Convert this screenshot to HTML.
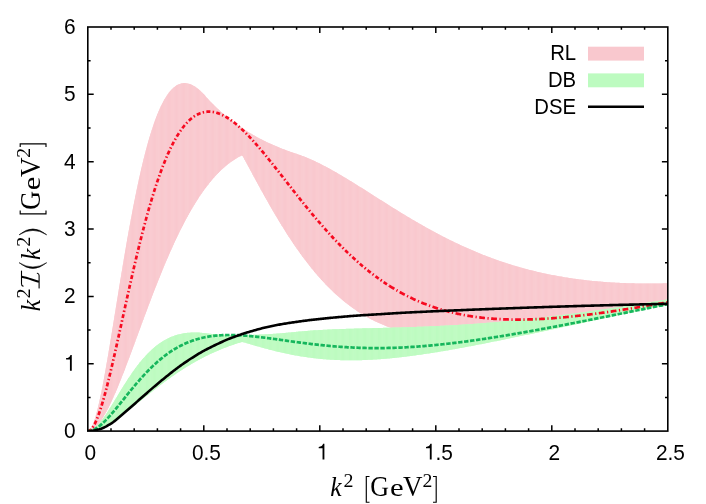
<!DOCTYPE html>
<html><head><meta charset="utf-8"><title>plot</title>
<style>html,body{margin:0;padding:0;background:#fff}svg{display:block;will-change:transform}</style></head>
<body><svg width="706" height="504" viewBox="0 0 706 504">
<rect width="706" height="504" fill="#fff"/>
<path d="M111.00,431.10 v-2.8 M111.00,27.00 v2.8 M134.20,431.10 v-2.8 M134.20,27.00 v2.8 M157.40,431.10 v-2.8 M157.40,27.00 v2.8 M180.60,431.10 v-2.8 M180.60,27.00 v2.8 M203.80,431.10 v-5.9 M203.80,27.00 v5.9 M227.00,431.10 v-2.8 M227.00,27.00 v2.8 M250.20,431.10 v-2.8 M250.20,27.00 v2.8 M273.40,431.10 v-2.8 M273.40,27.00 v2.8 M296.60,431.10 v-2.8 M296.60,27.00 v2.8 M319.80,431.10 v-5.9 M319.80,27.00 v5.9 M343.00,431.10 v-2.8 M343.00,27.00 v2.8 M366.20,431.10 v-2.8 M366.20,27.00 v2.8 M389.40,431.10 v-2.8 M389.40,27.00 v2.8 M412.60,431.10 v-2.8 M412.60,27.00 v2.8 M435.80,431.10 v-5.9 M435.80,27.00 v5.9 M459.00,431.10 v-2.8 M459.00,27.00 v2.8 M482.20,431.10 v-2.8 M482.20,27.00 v2.8 M505.40,431.10 v-2.8 M505.40,27.00 v2.8 M528.60,431.10 v-2.8 M528.60,27.00 v2.8 M551.80,431.10 v-5.9 M551.80,27.00 v5.9 M575.00,431.10 v-2.8 M575.00,27.00 v2.8 M598.20,431.10 v-2.8 M598.20,27.00 v2.8 M621.40,431.10 v-2.8 M621.40,27.00 v2.8 M644.60,431.10 v-2.8 M644.60,27.00 v2.8 M87.80,397.43 h2.8 M667.80,397.43 h-2.8 M87.80,363.75 h5.9 M667.80,363.75 h-5.9 M87.80,330.08 h2.8 M667.80,330.08 h-2.8 M87.80,296.40 h5.9 M667.80,296.40 h-5.9 M87.80,262.73 h2.8 M667.80,262.73 h-2.8 M87.80,229.05 h5.9 M667.80,229.05 h-5.9 M87.80,195.38 h2.8 M667.80,195.38 h-2.8 M87.80,161.70 h5.9 M667.80,161.70 h-5.9 M87.80,128.02 h2.8 M667.80,128.02 h-2.8 M87.80,94.35 h5.9 M667.80,94.35 h-5.9 M87.80,60.67 h2.8 M667.80,60.67 h-2.8" stroke="#000" stroke-width="1.5" fill="none"/>
<clipPath id="pc"><rect x="87.80" y="27.00" width="580.00" height="404.10"/></clipPath><g clip-path="url(#pc)">
<path d="M87.80,431.10 L88.96,430.73 L90.12,429.64 L91.28,427.91 L92.44,425.56 L93.60,422.65 L94.76,419.23 L95.92,415.33 L97.08,411.01 L98.24,406.29 L99.40,401.21 L100.56,395.82 L101.72,390.13 L102.88,384.18 L104.04,378.01 L105.20,371.63 L106.36,365.08 L107.52,358.38 L108.68,351.55 L109.84,344.61 L111.00,337.60 L112.16,330.51 L113.32,323.38 L114.48,316.22 L115.64,309.04 L116.80,301.87 L117.96,294.71 L119.12,287.58 L120.28,280.48 L121.44,273.44 L122.60,266.47 L123.76,259.56 L124.92,252.74 L126.08,246.00 L127.24,239.36 L128.40,232.83 L129.56,226.41 L130.72,220.10 L131.88,213.91 L133.04,207.86 L134.20,201.93 L135.36,196.13 L136.52,190.48 L137.68,184.97 L138.84,179.60 L140.00,174.38 L141.16,169.30 L142.32,164.38 L143.48,159.61 L144.64,154.99 L145.80,150.52 L146.96,146.20 L148.12,142.04 L149.28,138.04 L150.44,134.18 L151.60,130.48 L152.76,126.94 L153.92,123.54 L155.08,120.29 L156.24,117.20 L157.40,114.25 L158.56,111.45 L159.72,108.79 L160.88,106.28 L162.04,103.91 L163.20,101.68 L164.36,99.59 L165.52,97.64 L166.68,95.82 L167.84,94.13 L169.00,92.57 L170.16,91.14 L171.32,89.84 L172.48,88.65 L173.64,87.59 L174.80,86.65 L175.96,85.82 L177.12,85.11 L178.28,84.51 L179.44,84.01 L180.60,83.63 L181.76,83.34 L182.92,83.16 L184.08,83.07 L185.24,83.08 L186.40,83.19 L187.56,83.38 L188.72,83.67 L189.88,84.04 L191.04,84.49 L192.20,85.03 L193.36,85.64 L194.52,86.33 L195.68,87.10 L196.84,87.93 L198.00,88.84 L199.16,89.81 L200.32,90.85 L201.48,91.95 L202.64,93.11 L203.80,94.32 L204.96,95.60 L206.12,96.91 L207.28,98.20 L208.44,99.46 L209.60,100.70 L210.76,101.91 L211.92,103.11 L213.08,104.29 L214.24,105.44 L215.40,106.58 L216.56,107.70 L217.72,108.79 L218.88,109.87 L220.04,110.93 L221.20,111.97 L222.36,113.00 L223.52,114.01 L224.68,115.00 L225.84,115.97 L227.00,116.93 L228.16,117.87 L229.32,118.80 L230.48,119.72 L231.64,120.61 L232.80,121.49 L233.96,122.36 L235.12,123.22 L236.28,124.06 L237.44,124.89 L238.60,125.70 L239.76,126.50 L240.92,127.30 L242.08,128.07 L243.24,128.83 L244.40,129.58 L245.56,130.33 L246.72,131.06 L247.88,131.77 L249.04,132.48 L250.20,133.18 L251.36,133.87 L252.52,134.54 L253.68,135.20 L254.84,135.86 L256.00,136.50 L257.16,137.13 L258.32,137.76 L259.48,138.38 L260.64,138.98 L261.80,139.58 L262.96,140.17 L264.12,140.75 L265.28,141.32 L266.44,141.88 L267.60,142.43 L268.76,142.98 L269.92,143.51 L271.08,144.04 L272.24,144.57 L273.40,145.08 L274.56,145.58 L275.72,146.08 L276.88,146.57 L278.04,147.05 L279.20,147.53 L280.36,148.00 L281.52,148.46 L282.68,148.91 L283.84,149.37 L285.00,149.80 L286.16,150.24 L287.32,150.67 L288.48,151.09 L289.64,151.50 L290.80,151.92 L291.96,152.32 L293.12,152.72 L294.28,153.11 L295.44,153.50 L296.60,153.87 L297.76,154.26 L298.92,154.65 L300.08,155.06 L301.24,155.48 L302.40,155.91 L303.56,156.36 L304.72,156.81 L305.88,157.27 L307.04,157.75 L308.20,158.24 L309.36,158.73 L310.52,159.24 L311.68,159.75 L312.84,160.28 L314.00,160.81 L315.16,161.35 L316.32,161.90 L317.48,162.46 L318.64,163.03 L319.80,163.61 L320.96,164.19 L322.12,164.78 L323.28,165.38 L324.44,165.98 L325.60,166.59 L326.76,167.21 L327.92,167.83 L329.08,168.47 L330.24,169.10 L331.40,169.74 L332.56,170.39 L333.72,171.05 L334.88,171.70 L336.04,172.37 L337.20,173.04 L338.36,173.71 L339.52,174.39 L340.68,175.07 L341.84,175.75 L343.00,176.44 L344.16,177.14 L345.32,177.83 L346.48,178.53 L347.64,179.24 L348.80,179.94 L349.96,180.65 L351.12,181.36 L352.28,182.08 L353.44,182.79 L354.60,183.51 L355.76,184.23 L356.92,184.96 L358.08,185.68 L359.24,186.41 L360.40,187.14 L361.56,187.87 L362.72,188.60 L363.88,189.33 L365.04,190.06 L366.20,190.80 L367.36,191.53 L368.52,192.27 L369.68,193.00 L370.84,193.74 L372.00,194.48 L373.16,195.21 L374.32,195.95 L375.48,196.69 L376.64,197.42 L377.80,198.16 L378.96,198.89 L380.12,199.63 L381.28,200.36 L382.44,201.10 L383.60,201.83 L384.76,202.56 L385.92,203.29 L387.08,204.02 L388.24,204.75 L389.40,205.48 L390.56,206.21 L391.72,206.93 L392.88,207.65 L394.04,208.38 L395.20,209.10 L396.36,209.81 L397.52,210.53 L398.68,211.24 L399.84,211.96 L401.00,212.67 L402.16,213.38 L403.32,214.08 L404.48,214.79 L405.64,215.49 L406.80,216.19 L407.96,216.88 L409.12,217.58 L410.28,218.27 L411.44,218.96 L412.60,219.64 L413.76,220.33 L414.92,221.01 L416.08,221.68 L417.24,222.36 L418.40,223.03 L419.56,223.70 L420.72,224.36 L421.88,225.03 L423.04,225.69 L424.20,226.34 L425.36,227.00 L426.52,227.65 L427.68,228.29 L428.84,228.93 L430.00,229.57 L431.16,230.21 L432.32,230.84 L433.48,231.47 L434.64,232.10 L435.80,232.72 L436.96,233.34 L438.12,233.95 L439.28,234.56 L440.44,235.17 L441.60,235.78 L442.76,236.38 L443.92,236.97 L445.08,237.56 L446.24,238.15 L447.40,238.74 L448.56,239.32 L449.72,239.90 L450.88,240.47 L452.04,241.04 L453.20,241.60 L454.36,242.17 L455.52,242.72 L456.68,243.28 L457.84,243.83 L459.00,244.37 L460.16,244.91 L461.32,245.45 L462.48,245.98 L463.64,246.51 L464.80,247.04 L465.96,247.56 L467.12,248.08 L468.28,248.59 L469.44,249.10 L470.60,249.60 L471.76,250.10 L472.92,250.60 L474.08,251.09 L475.24,251.58 L476.40,252.07 L477.56,252.55 L478.72,253.02 L479.88,253.49 L481.04,253.96 L482.20,254.43 L483.36,254.89 L484.52,255.34 L485.68,255.79 L486.84,256.24 L488.00,256.68 L489.16,257.12 L490.32,257.56 L491.48,257.99 L492.64,258.41 L493.80,258.84 L494.96,259.25 L496.12,259.67 L497.28,260.08 L498.44,260.48 L499.60,260.89 L500.76,261.28 L501.92,261.68 L503.08,262.07 L504.24,262.45 L505.40,262.83 L506.56,263.21 L507.72,263.59 L508.88,263.95 L510.04,264.32 L511.20,264.68 L512.36,265.04 L513.52,265.39 L514.68,265.74 L515.84,266.09 L517.00,266.43 L518.16,266.77 L519.32,267.10 L520.48,267.43 L521.64,267.76 L522.80,268.08 L523.96,268.40 L525.12,268.71 L526.28,269.02 L527.44,269.33 L528.60,269.63 L529.76,269.93 L530.92,270.23 L532.08,270.52 L533.24,270.81 L534.40,271.09 L535.56,271.37 L536.72,271.65 L537.88,271.92 L539.04,272.19 L540.20,272.45 L541.36,272.72 L542.52,272.97 L543.68,273.23 L544.84,273.48 L546.00,273.73 L547.16,273.97 L548.32,274.21 L549.48,274.45 L550.64,274.68 L551.80,274.91 L552.96,275.14 L554.12,275.36 L555.28,275.58 L556.44,275.79 L557.60,276.01 L558.76,276.22 L559.92,276.42 L561.08,276.62 L562.24,276.82 L563.40,277.02 L564.56,277.21 L565.72,277.40 L566.88,277.58 L568.04,277.77 L569.20,277.95 L570.36,278.12 L571.52,278.29 L572.68,278.46 L573.84,278.63 L575.00,278.79 L576.16,278.95 L577.32,279.11 L578.48,279.26 L579.64,279.42 L580.80,279.56 L581.96,279.71 L583.12,279.85 L584.28,279.99 L585.44,280.12 L586.60,280.26 L587.76,280.39 L588.92,280.51 L590.08,280.64 L591.24,280.76 L592.40,280.88 L593.56,280.99 L594.72,281.10 L595.88,281.21 L597.04,281.32 L598.20,281.42 L599.36,281.53 L600.52,281.62 L601.68,281.72 L602.84,281.81 L604.00,281.90 L605.16,281.99 L606.32,282.08 L607.48,282.16 L608.64,282.24 L609.80,282.32 L610.96,282.39 L612.12,282.46 L613.28,282.53 L614.44,282.60 L615.60,282.66 L616.76,282.73 L617.92,282.79 L619.08,282.84 L620.24,282.90 L621.40,282.95 L622.56,283.00 L623.72,283.05 L624.88,283.09 L626.04,283.13 L627.20,283.17 L628.36,283.21 L629.52,283.25 L630.68,283.28 L631.84,283.31 L633.00,283.34 L634.16,283.37 L635.32,283.39 L636.48,283.42 L637.64,283.44 L638.80,283.45 L639.96,283.47 L641.12,283.48 L642.28,283.49 L643.44,283.50 L644.60,283.51 L645.76,283.52 L646.92,283.52 L648.08,283.52 L649.24,283.52 L650.40,283.52 L651.56,283.51 L652.72,283.51 L653.88,283.50 L655.04,283.49 L656.20,283.47 L657.36,283.46 L658.52,283.44 L659.68,283.42 L660.84,283.40 L662.00,283.38 L663.16,283.36 L664.32,283.33 L665.48,283.31 L666.64,283.28 L667.80,283.25 L667.80,304.39 L666.64,304.62 L665.48,304.86 L664.32,305.10 L663.16,305.33 L662.00,305.57 L660.84,305.81 L659.68,306.04 L658.52,306.28 L657.36,306.52 L656.20,306.75 L655.04,306.99 L653.88,307.22 L652.72,307.46 L651.56,307.70 L650.40,307.93 L649.24,308.17 L648.08,308.41 L646.92,308.64 L645.76,308.88 L644.60,309.11 L643.44,309.35 L642.28,309.59 L641.12,309.82 L639.96,310.06 L638.80,310.29 L637.64,310.53 L636.48,310.76 L635.32,311.00 L634.16,311.23 L633.00,311.47 L631.84,311.70 L630.68,311.94 L629.52,312.17 L628.36,312.41 L627.20,312.64 L626.04,312.88 L624.88,313.11 L623.72,313.34 L622.56,313.58 L621.40,313.81 L620.24,314.04 L619.08,314.28 L617.92,314.51 L616.76,314.74 L615.60,314.98 L614.44,315.21 L613.28,315.44 L612.12,315.67 L610.96,315.90 L609.80,316.13 L608.64,316.37 L607.48,316.60 L606.32,316.83 L605.16,317.06 L604.00,317.29 L602.84,317.52 L601.68,317.75 L600.52,317.97 L599.36,318.20 L598.20,318.43 L597.04,318.66 L595.88,318.89 L594.72,319.11 L593.56,319.34 L592.40,319.57 L591.24,319.79 L590.08,320.02 L588.92,320.24 L587.76,320.47 L586.60,320.69 L585.44,320.92 L584.28,321.14 L583.12,321.36 L581.96,321.58 L580.80,321.80 L579.64,322.03 L578.48,322.25 L577.32,322.47 L576.16,322.69 L575.00,322.90 L573.84,323.12 L572.68,323.34 L571.52,323.56 L570.36,323.77 L569.20,323.99 L568.04,324.20 L566.88,324.42 L565.72,324.63 L564.56,324.84 L563.40,325.06 L562.24,325.27 L561.08,325.48 L559.92,325.69 L558.76,325.89 L557.60,326.10 L556.44,326.31 L555.28,326.52 L554.12,326.72 L552.96,326.92 L551.80,327.13 L550.64,327.33 L549.48,327.53 L548.32,327.73 L547.16,327.93 L546.00,328.13 L544.84,328.33 L543.68,328.52 L542.52,328.72 L541.36,328.91 L540.20,329.10 L539.04,329.29 L537.88,329.48 L536.72,329.67 L535.56,329.86 L534.40,330.05 L533.24,330.23 L532.08,330.42 L530.92,330.60 L529.76,330.78 L528.60,330.96 L527.44,331.14 L526.28,331.31 L525.12,331.49 L523.96,331.66 L522.80,331.83 L521.64,332.00 L520.48,332.17 L519.32,332.34 L518.16,332.50 L517.00,332.66 L515.84,332.83 L514.68,332.99 L513.52,333.14 L512.36,333.30 L511.20,333.45 L510.04,333.60 L508.88,333.75 L507.72,333.90 L506.56,334.05 L505.40,334.19 L504.24,334.33 L503.08,334.47 L501.92,334.61 L500.76,334.74 L499.60,334.87 L498.44,335.00 L497.28,335.13 L496.12,335.26 L494.96,335.38 L493.80,335.50 L492.64,335.61 L491.48,335.73 L490.32,335.84 L489.16,335.95 L488.00,336.05 L486.84,336.16 L485.68,336.26 L484.52,336.36 L483.36,336.45 L482.20,336.54 L481.04,336.63 L479.88,336.71 L478.72,336.79 L477.56,336.87 L476.40,336.95 L475.24,337.02 L474.08,337.09 L472.92,337.15 L471.76,337.21 L470.60,337.27 L469.44,337.32 L468.28,337.37 L467.12,337.42 L465.96,337.46 L464.80,337.50 L463.64,337.53 L462.48,337.56 L461.32,337.59 L460.16,337.61 L459.00,337.62 L457.84,337.64 L456.68,337.64 L455.52,337.65 L454.36,337.65 L453.20,337.64 L452.04,337.63 L450.88,337.61 L449.72,337.59 L448.56,337.57 L447.40,337.53 L446.24,337.50 L445.08,337.46 L443.92,337.41 L442.76,337.36 L441.60,337.30 L440.44,337.24 L439.28,337.17 L438.12,337.09 L436.96,337.01 L435.80,336.92 L434.64,336.83 L433.48,336.73 L432.32,336.63 L431.16,336.51 L430.00,336.40 L428.84,336.27 L427.68,336.14 L426.52,336.00 L425.36,335.86 L424.20,335.70 L423.04,335.54 L421.88,335.38 L420.72,335.20 L419.56,335.02 L418.40,334.83 L417.24,334.64 L416.08,334.43 L414.92,334.22 L413.76,334.00 L412.60,333.77 L411.44,333.54 L410.28,333.29 L409.12,333.04 L407.96,332.78 L406.80,332.51 L405.64,332.23 L404.48,331.94 L403.32,331.65 L402.16,331.34 L401.00,331.02 L399.84,330.70 L398.68,330.37 L397.52,330.02 L396.36,329.67 L395.20,329.31 L394.04,328.93 L392.88,328.55 L391.72,328.15 L390.56,327.75 L389.40,327.34 L388.24,326.91 L387.08,326.47 L385.92,326.03 L384.76,325.57 L383.60,325.10 L382.44,324.62 L381.28,324.12 L380.12,323.62 L378.96,323.10 L377.80,322.58 L376.64,322.04 L375.48,321.49 L374.32,320.92 L373.16,320.34 L372.00,319.75 L370.84,319.15 L369.68,318.54 L368.52,317.91 L367.36,317.27 L366.20,316.61 L365.04,315.95 L363.88,315.26 L362.72,314.57 L361.56,313.86 L360.40,313.14 L359.24,312.40 L358.08,311.65 L356.92,310.88 L355.76,310.10 L354.60,309.30 L353.44,308.49 L352.28,307.67 L351.12,306.83 L349.96,305.97 L348.80,305.10 L347.64,304.22 L346.48,303.31 L345.32,302.40 L344.16,301.46 L343.00,300.51 L341.84,299.55 L340.68,298.56 L339.52,297.57 L338.36,296.55 L337.20,295.52 L336.04,294.47 L334.88,293.41 L333.72,292.32 L332.56,291.22 L331.40,290.11 L330.24,288.97 L329.08,287.82 L327.92,286.66 L326.76,285.47 L325.60,284.27 L324.44,283.05 L323.28,281.81 L322.12,280.55 L320.96,279.28 L319.80,277.98 L318.64,276.67 L317.48,275.34 L316.32,274.00 L315.16,272.63 L314.00,271.25 L312.84,269.85 L311.68,268.43 L310.52,266.99 L309.36,265.54 L308.20,264.06 L307.04,262.57 L305.88,261.06 L304.72,259.53 L303.56,257.98 L302.40,256.42 L301.24,254.84 L300.08,253.23 L298.92,251.62 L297.76,249.98 L296.60,248.32 L295.44,246.65 L294.28,244.96 L293.12,243.25 L291.96,241.53 L290.80,239.78 L289.64,238.02 L288.48,236.25 L287.32,234.45 L286.16,232.64 L285.00,230.82 L283.84,228.97 L282.68,227.11 L281.52,225.24 L280.36,223.35 L279.20,221.44 L278.04,219.52 L276.88,217.59 L275.72,215.64 L274.56,213.67 L273.40,211.70 L272.24,209.71 L271.08,207.70 L269.92,205.69 L268.76,203.66 L267.60,201.62 L266.44,199.57 L265.28,197.50 L264.12,195.43 L262.96,193.35 L261.80,191.26 L260.64,189.16 L259.48,187.05 L258.32,184.93 L257.16,182.81 L256.00,180.68 L254.84,178.55 L253.68,176.41 L252.52,174.26 L251.36,172.11 L250.20,169.96 L249.04,167.81 L247.88,165.66 L246.72,163.51 L245.56,161.36 L244.40,159.20 L243.24,157.06 L242.08,155.33 L240.92,155.90 L239.76,156.50 L238.60,157.12 L237.44,157.78 L236.28,158.46 L235.12,159.17 L233.96,159.91 L232.80,160.68 L231.64,161.49 L230.48,162.32 L229.32,163.18 L228.16,164.07 L227.00,164.99 L225.84,165.95 L224.68,166.93 L223.52,167.95 L222.36,169.00 L221.20,170.08 L220.04,171.20 L218.88,172.35 L217.72,173.53 L216.56,174.74 L215.40,175.99 L214.24,177.27 L213.08,178.59 L211.92,179.94 L210.76,181.32 L209.60,182.74 L208.44,184.20 L207.28,185.69 L206.12,187.21 L204.96,188.77 L203.80,190.37 L202.64,192.00 L201.48,193.66 L200.32,195.36 L199.16,197.10 L198.00,198.88 L196.84,200.68 L195.68,202.53 L194.52,204.41 L193.36,206.33 L192.20,208.28 L191.04,210.27 L189.88,212.30 L188.72,214.36 L187.56,216.45 L186.40,218.59 L185.24,220.76 L184.08,222.96 L182.92,225.20 L181.76,227.47 L180.60,229.78 L179.44,232.12 L178.28,234.50 L177.12,236.91 L175.96,239.36 L174.80,241.84 L173.64,244.35 L172.48,246.89 L171.32,249.47 L170.16,252.08 L169.00,254.72 L167.84,257.39 L166.68,260.09 L165.52,262.82 L164.36,265.58 L163.20,268.37 L162.04,271.18 L160.88,274.02 L159.72,276.89 L158.56,279.79 L157.40,282.70 L156.24,285.64 L155.08,288.61 L153.92,291.59 L152.76,294.60 L151.60,297.62 L150.44,300.67 L149.28,303.73 L148.12,306.80 L146.96,309.89 L145.80,313.00 L144.64,316.11 L143.48,319.24 L142.32,322.37 L141.16,325.51 L140.00,328.66 L138.84,331.81 L137.68,334.96 L136.52,338.11 L135.36,341.26 L134.20,344.40 L133.04,347.54 L131.88,350.67 L130.72,353.79 L129.56,356.89 L128.40,359.98 L127.24,363.06 L126.08,366.11 L124.92,369.13 L123.76,372.14 L122.60,375.11 L121.44,378.05 L120.28,380.95 L119.12,383.82 L117.96,386.64 L116.80,389.42 L115.64,392.15 L114.48,394.82 L113.32,397.44 L112.16,400.00 L111.00,402.49 L109.84,404.92 L108.68,407.27 L107.52,409.54 L106.36,411.74 L105.20,413.84 L104.04,415.85 L102.88,417.77 L101.72,419.58 L100.56,421.28 L99.40,422.87 L98.24,424.34 L97.08,425.68 L95.92,426.89 L94.76,427.97 L93.60,428.89 L92.44,429.67 L91.28,430.28 L90.12,430.73 L88.96,431.01 L87.80,431.10Z" fill="#fbd6db"/><g fill="#f9c8ce"><path d="M87.80,431.10 L88.96,430.73 L88.96,431.01 L87.80,431.10Z"/><path d="M88.96,430.73 L90.12,429.64 L90.12,430.73 L88.96,431.01Z"/><path d="M90.12,429.64 L91.28,427.91 L91.28,430.28 L90.12,430.73Z"/><path d="M91.28,427.91 L92.44,425.56 L92.44,429.67 L91.28,430.28Z"/><path d="M92.44,425.56 L93.60,422.65 L93.60,428.89 L92.44,429.67Z"/><path d="M93.60,422.65 L94.76,419.23 L94.76,427.97 L93.60,428.89Z"/><path d="M94.76,419.23 L95.92,415.33 L95.92,426.89 L94.76,427.97Z"/><path d="M95.92,415.33 L97.08,411.01 L97.08,425.68 L95.92,426.89Z"/><path d="M97.08,411.01 L98.24,406.29 L98.24,424.34 L97.08,425.68Z"/><path d="M98.24,406.29 L99.40,401.21 L99.40,422.87 L98.24,424.34Z"/><path d="M99.40,401.21 L100.56,395.82 L100.56,421.28 L99.40,422.87Z"/><path d="M100.56,395.82 L101.72,390.13 L101.72,419.58 L100.56,421.28Z"/><path d="M101.72,390.13 L102.88,384.18 L102.88,417.77 L101.72,419.58Z"/><path d="M102.88,384.18 L104.04,378.01 L104.04,415.85 L102.88,417.77Z"/><path d="M104.04,378.01 L105.20,371.63 L105.20,413.84 L104.04,415.85Z"/><path d="M105.20,371.63 L106.36,365.08 L106.36,411.74 L105.20,413.84Z"/><path d="M106.36,365.08 L107.52,358.38 L107.52,409.54 L106.36,411.74Z"/><path d="M107.52,358.38 L108.68,351.55 L108.68,407.27 L107.52,409.54Z"/><path d="M108.68,351.55 L109.84,344.61 L109.84,404.92 L108.68,407.27Z"/><path d="M109.84,344.61 L111.00,337.60 L111.00,402.49 L109.84,404.92Z"/><path d="M111.00,337.60 L112.16,330.51 L112.16,400.00 L111.00,402.49Z"/><path d="M112.16,330.51 L113.32,323.38 L113.32,397.44 L112.16,400.00Z"/><path d="M113.32,323.38 L114.48,316.22 L114.48,394.82 L113.32,397.44Z"/><path d="M114.48,316.22 L115.64,309.04 L115.64,392.15 L114.48,394.82Z"/><path d="M115.64,309.04 L116.80,301.87 L116.80,389.42 L115.64,392.15Z"/><path d="M116.80,301.87 L117.96,294.71 L117.96,386.64 L116.80,389.42Z"/><path d="M117.96,294.71 L119.12,287.58 L119.12,383.82 L117.96,386.64Z"/><path d="M119.12,287.58 L120.28,280.48 L120.28,380.95 L119.12,383.82Z"/><path d="M120.28,280.48 L121.44,273.44 L121.44,378.05 L120.28,380.95Z"/><path d="M121.44,273.44 L122.60,266.47 L122.60,375.11 L121.44,378.05Z"/><path d="M122.60,266.47 L123.76,259.56 L123.76,372.14 L122.60,375.11Z"/><path d="M123.76,259.56 L124.92,252.74 L124.92,369.13 L123.76,372.14Z"/><path d="M124.92,252.74 L126.08,246.00 L126.08,366.11 L124.92,369.13Z"/><path d="M126.08,246.00 L127.24,239.36 L127.24,363.06 L126.08,366.11Z"/><path d="M127.24,239.36 L128.40,232.83 L128.40,359.98 L127.24,363.06Z"/><path d="M128.40,232.83 L129.56,226.41 L129.56,356.89 L128.40,359.98Z"/><path d="M129.56,226.41 L130.72,220.10 L130.72,353.79 L129.56,356.89Z"/><path d="M130.72,220.10 L131.88,213.91 L131.88,350.67 L130.72,353.79Z"/><path d="M131.88,213.91 L133.04,207.86 L133.04,347.54 L131.88,350.67Z"/><path d="M133.04,207.86 L134.20,201.93 L134.20,344.40 L133.04,347.54Z"/><path d="M134.20,201.93 L135.36,196.13 L135.36,341.26 L134.20,344.40Z"/><path d="M135.36,196.13 L136.52,190.48 L136.52,338.11 L135.36,341.26Z"/><path d="M136.52,190.48 L137.68,184.97 L137.68,334.96 L136.52,338.11Z"/><path d="M137.68,184.97 L138.84,179.60 L138.84,331.81 L137.68,334.96Z"/><path d="M138.84,179.60 L140.00,174.38 L140.00,328.66 L138.84,331.81Z"/><path d="M140.00,174.38 L141.16,169.30 L141.16,325.51 L140.00,328.66Z"/><path d="M141.16,169.30 L142.32,164.38 L142.32,322.37 L141.16,325.51Z"/><path d="M142.32,164.38 L143.48,159.61 L143.48,319.24 L142.32,322.37Z"/><path d="M143.48,159.61 L144.64,154.99 L144.64,316.11 L143.48,319.24Z"/><path d="M144.64,154.99 L145.80,150.52 L145.80,313.00 L144.64,316.11Z"/><path d="M145.80,150.52 L146.96,146.20 L146.96,309.89 L145.80,313.00Z"/><path d="M146.96,146.20 L148.12,142.04 L148.12,306.80 L146.96,309.89Z"/><path d="M148.12,142.04 L149.28,138.04 L149.28,303.73 L148.12,306.80Z"/><path d="M149.28,138.04 L150.44,134.18 L150.44,300.67 L149.28,303.73Z"/><path d="M150.44,134.18 L151.60,130.48 L151.60,297.62 L150.44,300.67Z"/><path d="M151.60,130.48 L152.76,126.94 L152.76,294.60 L151.60,297.62Z"/><path d="M152.76,126.94 L153.92,123.54 L153.92,291.59 L152.76,294.60Z"/><path d="M153.92,123.54 L155.08,120.29 L155.08,288.61 L153.92,291.59Z"/><path d="M155.08,120.29 L156.24,117.20 L156.24,285.64 L155.08,288.61Z"/><path d="M156.24,117.20 L157.40,114.25 L157.40,282.70 L156.24,285.64Z"/><path d="M157.40,114.25 L158.56,111.45 L158.56,279.79 L157.40,282.70Z"/><path d="M158.56,111.45 L159.72,108.79 L159.72,276.89 L158.56,279.79Z"/><path d="M159.72,108.79 L160.88,106.28 L160.88,274.02 L159.72,276.89Z"/><path d="M160.88,106.28 L162.04,103.91 L162.04,271.18 L160.88,274.02Z"/><path d="M162.04,103.91 L163.20,101.68 L163.20,268.37 L162.04,271.18Z"/><path d="M163.20,101.68 L164.36,99.59 L164.36,265.58 L163.20,268.37Z"/><path d="M164.36,99.59 L165.52,97.64 L165.52,262.82 L164.36,265.58Z"/><path d="M165.52,97.64 L166.68,95.82 L166.68,260.09 L165.52,262.82Z"/><path d="M166.68,95.82 L167.84,94.13 L167.84,257.39 L166.68,260.09Z"/><path d="M167.84,94.13 L169.00,92.57 L169.00,254.72 L167.84,257.39Z"/><path d="M169.00,92.57 L170.16,91.14 L170.16,252.08 L169.00,254.72Z"/><path d="M170.16,91.14 L171.32,89.84 L171.32,249.47 L170.16,252.08Z"/><path d="M171.32,89.84 L172.48,88.65 L172.48,246.89 L171.32,249.47Z"/><path d="M172.48,88.65 L173.64,87.59 L173.64,244.35 L172.48,246.89Z"/><path d="M173.64,87.59 L174.80,86.65 L174.80,241.84 L173.64,244.35Z"/><path d="M174.80,86.65 L175.96,85.82 L175.96,239.36 L174.80,241.84Z"/><path d="M175.96,85.82 L177.12,85.11 L177.12,236.91 L175.96,239.36Z"/><path d="M177.12,85.11 L178.28,84.51 L178.28,234.50 L177.12,236.91Z"/><path d="M178.28,84.51 L179.44,84.01 L179.44,232.12 L178.28,234.50Z"/><path d="M179.44,84.01 L180.60,83.63 L180.60,229.78 L179.44,232.12Z"/><path d="M180.60,83.63 L181.76,83.34 L181.76,227.47 L180.60,229.78Z"/><path d="M181.76,83.34 L182.92,83.16 L182.92,225.20 L181.76,227.47Z"/><path d="M182.92,83.16 L184.08,83.07 L184.08,222.96 L182.92,225.20Z"/><path d="M184.08,83.07 L185.24,83.08 L185.24,220.76 L184.08,222.96Z"/><path d="M185.24,83.08 L186.40,83.19 L186.40,218.59 L185.24,220.76Z"/><path d="M186.40,83.19 L187.56,83.38 L187.56,216.45 L186.40,218.59Z"/><path d="M187.56,83.38 L188.72,83.67 L188.72,214.36 L187.56,216.45Z"/><path d="M188.72,83.67 L189.88,84.04 L189.88,212.30 L188.72,214.36Z"/><path d="M189.88,84.04 L191.04,84.49 L191.04,210.27 L189.88,212.30Z"/><path d="M191.04,84.49 L192.20,85.03 L192.20,208.28 L191.04,210.27Z"/><path d="M192.20,85.03 L193.36,85.64 L193.36,206.33 L192.20,208.28Z"/><path d="M193.36,85.64 L194.52,86.33 L194.52,204.41 L193.36,206.33Z"/><path d="M194.52,86.33 L195.68,87.10 L195.68,202.53 L194.52,204.41Z"/><path d="M195.68,87.10 L196.84,87.93 L196.84,200.68 L195.68,202.53Z"/><path d="M196.84,87.93 L198.00,88.84 L198.00,198.88 L196.84,200.68Z"/><path d="M198.00,88.84 L199.16,89.81 L199.16,197.10 L198.00,198.88Z"/><path d="M199.16,89.81 L200.32,90.85 L200.32,195.36 L199.16,197.10Z"/><path d="M200.32,90.85 L201.48,91.95 L201.48,193.66 L200.32,195.36Z"/><path d="M201.48,91.95 L202.64,93.11 L202.64,192.00 L201.48,193.66Z"/><path d="M202.64,93.11 L203.80,94.32 L203.80,190.37 L202.64,192.00Z"/><path d="M203.80,94.32 L204.96,95.60 L204.96,188.77 L203.80,190.37Z"/><path d="M204.96,95.60 L206.12,96.91 L206.12,187.21 L204.96,188.77Z"/><path d="M206.12,96.91 L207.28,98.20 L207.28,185.69 L206.12,187.21Z"/><path d="M207.28,98.20 L208.44,99.46 L208.44,184.20 L207.28,185.69Z"/><path d="M208.44,99.46 L209.60,100.70 L209.60,182.74 L208.44,184.20Z"/><path d="M209.60,100.70 L210.76,101.91 L210.76,181.32 L209.60,182.74Z"/><path d="M210.76,101.91 L211.92,103.11 L211.92,179.94 L210.76,181.32Z"/><path d="M211.92,103.11 L213.08,104.29 L213.08,178.59 L211.92,179.94Z"/><path d="M213.08,104.29 L214.24,105.44 L214.24,177.27 L213.08,178.59Z"/><path d="M214.24,105.44 L215.40,106.58 L215.40,175.99 L214.24,177.27Z"/><path d="M215.40,106.58 L216.56,107.70 L216.56,174.74 L215.40,175.99Z"/><path d="M216.56,107.70 L217.72,108.79 L217.72,173.53 L216.56,174.74Z"/><path d="M217.72,108.79 L218.88,109.87 L218.88,172.35 L217.72,173.53Z"/><path d="M218.88,109.87 L220.04,110.93 L220.04,171.20 L218.88,172.35Z"/><path d="M220.04,110.93 L221.20,111.97 L221.20,170.08 L220.04,171.20Z"/><path d="M221.20,111.97 L222.36,113.00 L222.36,169.00 L221.20,170.08Z"/><path d="M222.36,113.00 L223.52,114.01 L223.52,167.95 L222.36,169.00Z"/><path d="M223.52,114.01 L224.68,115.00 L224.68,166.93 L223.52,167.95Z"/><path d="M224.68,115.00 L225.84,115.97 L225.84,165.95 L224.68,166.93Z"/><path d="M225.84,115.97 L227.00,116.93 L227.00,164.99 L225.84,165.95Z"/><path d="M227.00,116.93 L228.16,117.87 L228.16,164.07 L227.00,164.99Z"/><path d="M228.16,117.87 L229.32,118.80 L229.32,163.18 L228.16,164.07Z"/><path d="M229.32,118.80 L230.48,119.72 L230.48,162.32 L229.32,163.18Z"/><path d="M230.48,119.72 L231.64,120.61 L231.64,161.49 L230.48,162.32Z"/><path d="M231.64,120.61 L232.80,121.49 L232.80,160.68 L231.64,161.49Z"/><path d="M232.80,121.49 L233.96,122.36 L233.96,159.91 L232.80,160.68Z"/><path d="M233.96,122.36 L235.12,123.22 L235.12,159.17 L233.96,159.91Z"/><path d="M235.12,123.22 L236.28,124.06 L236.28,158.46 L235.12,159.17Z"/><path d="M236.28,124.06 L237.44,124.89 L237.44,157.78 L236.28,158.46Z"/><path d="M237.44,124.89 L238.60,125.70 L238.60,157.12 L237.44,157.78Z"/><path d="M238.60,125.70 L239.76,126.50 L239.76,156.50 L238.60,157.12Z"/><path d="M239.76,126.50 L240.92,127.30 L240.92,155.90 L239.76,156.50Z"/><path d="M240.92,127.30 L242.08,128.07 L242.08,155.33 L240.92,155.90Z"/><path d="M242.08,128.07 L243.24,128.83 L243.24,157.06 L242.08,155.33Z"/><path d="M243.24,128.83 L244.40,129.58 L244.40,159.20 L243.24,157.06Z"/><path d="M244.40,129.58 L245.56,130.33 L245.56,161.36 L244.40,159.20Z"/><path d="M245.56,130.33 L246.72,131.06 L246.72,163.51 L245.56,161.36Z"/><path d="M246.72,131.06 L247.88,131.77 L247.88,165.66 L246.72,163.51Z"/><path d="M247.88,131.77 L249.04,132.48 L249.04,167.81 L247.88,165.66Z"/><path d="M249.04,132.48 L250.20,133.18 L250.20,169.96 L249.04,167.81Z"/><path d="M250.20,133.18 L251.36,133.87 L251.36,172.11 L250.20,169.96Z"/><path d="M251.36,133.87 L252.52,134.54 L252.52,174.26 L251.36,172.11Z"/><path d="M252.52,134.54 L253.68,135.20 L253.68,176.41 L252.52,174.26Z"/><path d="M253.68,135.20 L254.84,135.86 L254.84,178.55 L253.68,176.41Z"/><path d="M254.84,135.86 L256.00,136.50 L256.00,180.68 L254.84,178.55Z"/><path d="M256.00,136.50 L257.16,137.13 L257.16,182.81 L256.00,180.68Z"/><path d="M257.16,137.13 L258.32,137.76 L258.32,184.93 L257.16,182.81Z"/><path d="M258.32,137.76 L259.48,138.38 L259.48,187.05 L258.32,184.93Z"/><path d="M259.48,138.38 L260.64,138.98 L260.64,189.16 L259.48,187.05Z"/><path d="M260.64,138.98 L261.80,139.58 L261.80,191.26 L260.64,189.16Z"/><path d="M261.80,139.58 L262.96,140.17 L262.96,193.35 L261.80,191.26Z"/><path d="M262.96,140.17 L264.12,140.75 L264.12,195.43 L262.96,193.35Z"/><path d="M264.12,140.75 L265.28,141.32 L265.28,197.50 L264.12,195.43Z"/><path d="M265.28,141.32 L266.44,141.88 L266.44,199.57 L265.28,197.50Z"/><path d="M266.44,141.88 L267.60,142.43 L267.60,201.62 L266.44,199.57Z"/><path d="M267.60,142.43 L268.76,142.98 L268.76,203.66 L267.60,201.62Z"/><path d="M268.76,142.98 L269.92,143.51 L269.92,205.69 L268.76,203.66Z"/><path d="M269.92,143.51 L271.08,144.04 L271.08,207.70 L269.92,205.69Z"/><path d="M271.08,144.04 L272.24,144.57 L272.24,209.71 L271.08,207.70Z"/><path d="M272.24,144.57 L273.40,145.08 L273.40,211.70 L272.24,209.71Z"/><path d="M273.40,145.08 L274.56,145.58 L274.56,213.67 L273.40,211.70Z"/><path d="M274.56,145.58 L275.72,146.08 L275.72,215.64 L274.56,213.67Z"/><path d="M275.72,146.08 L276.88,146.57 L276.88,217.59 L275.72,215.64Z"/><path d="M276.88,146.57 L278.04,147.05 L278.04,219.52 L276.88,217.59Z"/><path d="M278.04,147.05 L279.20,147.53 L279.20,221.44 L278.04,219.52Z"/><path d="M279.20,147.53 L280.36,148.00 L280.36,223.35 L279.20,221.44Z"/><path d="M280.36,148.00 L281.52,148.46 L281.52,225.24 L280.36,223.35Z"/><path d="M281.52,148.46 L282.68,148.91 L282.68,227.11 L281.52,225.24Z"/><path d="M282.68,148.91 L283.84,149.37 L283.84,228.97 L282.68,227.11Z"/><path d="M283.84,149.37 L285.00,149.80 L285.00,230.82 L283.84,228.97Z"/><path d="M285.00,149.80 L286.16,150.24 L286.16,232.64 L285.00,230.82Z"/><path d="M286.16,150.24 L287.32,150.67 L287.32,234.45 L286.16,232.64Z"/><path d="M287.32,150.67 L288.48,151.09 L288.48,236.25 L287.32,234.45Z"/><path d="M288.48,151.09 L289.64,151.50 L289.64,238.02 L288.48,236.25Z"/><path d="M289.64,151.50 L290.80,151.92 L290.80,239.78 L289.64,238.02Z"/><path d="M290.80,151.92 L291.96,152.32 L291.96,241.53 L290.80,239.78Z"/><path d="M291.96,152.32 L293.12,152.72 L293.12,243.25 L291.96,241.53Z"/><path d="M293.12,152.72 L294.28,153.11 L294.28,244.96 L293.12,243.25Z"/><path d="M294.28,153.11 L295.44,153.50 L295.44,246.65 L294.28,244.96Z"/><path d="M295.44,153.50 L296.60,153.87 L296.60,248.32 L295.44,246.65Z"/><path d="M296.60,153.87 L297.76,154.26 L297.76,249.98 L296.60,248.32Z"/><path d="M297.76,154.26 L298.92,154.65 L298.92,251.62 L297.76,249.98Z"/><path d="M298.92,154.65 L300.08,155.06 L300.08,253.23 L298.92,251.62Z"/><path d="M300.08,155.06 L301.24,155.48 L301.24,254.84 L300.08,253.23Z"/><path d="M301.24,155.48 L302.40,155.91 L302.40,256.42 L301.24,254.84Z"/><path d="M302.40,155.91 L303.56,156.36 L303.56,257.98 L302.40,256.42Z"/><path d="M303.56,156.36 L304.72,156.81 L304.72,259.53 L303.56,257.98Z"/><path d="M304.72,156.81 L305.88,157.27 L305.88,261.06 L304.72,259.53Z"/><path d="M305.88,157.27 L307.04,157.75 L307.04,262.57 L305.88,261.06Z"/><path d="M307.04,157.75 L308.20,158.24 L308.20,264.06 L307.04,262.57Z"/><path d="M308.20,158.24 L309.36,158.73 L309.36,265.54 L308.20,264.06Z"/><path d="M309.36,158.73 L310.52,159.24 L310.52,266.99 L309.36,265.54Z"/><path d="M310.52,159.24 L311.68,159.75 L311.68,268.43 L310.52,266.99Z"/><path d="M311.68,159.75 L312.84,160.28 L312.84,269.85 L311.68,268.43Z"/><path d="M312.84,160.28 L314.00,160.81 L314.00,271.25 L312.84,269.85Z"/><path d="M314.00,160.81 L315.16,161.35 L315.16,272.63 L314.00,271.25Z"/><path d="M315.16,161.35 L316.32,161.90 L316.32,274.00 L315.16,272.63Z"/><path d="M316.32,161.90 L317.48,162.46 L317.48,275.34 L316.32,274.00Z"/><path d="M317.48,162.46 L318.64,163.03 L318.64,276.67 L317.48,275.34Z"/><path d="M318.64,163.03 L319.80,163.61 L319.80,277.98 L318.64,276.67Z"/><path d="M319.80,163.61 L320.96,164.19 L320.96,279.28 L319.80,277.98Z"/><path d="M320.96,164.19 L322.12,164.78 L322.12,280.55 L320.96,279.28Z"/><path d="M322.12,164.78 L323.28,165.38 L323.28,281.81 L322.12,280.55Z"/><path d="M323.28,165.38 L324.44,165.98 L324.44,283.05 L323.28,281.81Z"/><path d="M324.44,165.98 L325.60,166.59 L325.60,284.27 L324.44,283.05Z"/><path d="M325.60,166.59 L326.76,167.21 L326.76,285.47 L325.60,284.27Z"/><path d="M326.76,167.21 L327.92,167.83 L327.92,286.66 L326.76,285.47Z"/><path d="M327.92,167.83 L329.08,168.47 L329.08,287.82 L327.92,286.66Z"/><path d="M329.08,168.47 L330.24,169.10 L330.24,288.97 L329.08,287.82Z"/><path d="M330.24,169.10 L331.40,169.74 L331.40,290.11 L330.24,288.97Z"/><path d="M331.40,169.74 L332.56,170.39 L332.56,291.22 L331.40,290.11Z"/><path d="M332.56,170.39 L333.72,171.05 L333.72,292.32 L332.56,291.22Z"/><path d="M333.72,171.05 L334.88,171.70 L334.88,293.41 L333.72,292.32Z"/><path d="M334.88,171.70 L336.04,172.37 L336.04,294.47 L334.88,293.41Z"/><path d="M336.04,172.37 L337.20,173.04 L337.20,295.52 L336.04,294.47Z"/><path d="M337.20,173.04 L338.36,173.71 L338.36,296.55 L337.20,295.52Z"/><path d="M338.36,173.71 L339.52,174.39 L339.52,297.57 L338.36,296.55Z"/><path d="M339.52,174.39 L340.68,175.07 L340.68,298.56 L339.52,297.57Z"/><path d="M340.68,175.07 L341.84,175.75 L341.84,299.55 L340.68,298.56Z"/><path d="M341.84,175.75 L343.00,176.44 L343.00,300.51 L341.84,299.55Z"/><path d="M343.00,176.44 L344.16,177.14 L344.16,301.46 L343.00,300.51Z"/><path d="M344.16,177.14 L345.32,177.83 L345.32,302.40 L344.16,301.46Z"/><path d="M345.32,177.83 L346.48,178.53 L346.48,303.31 L345.32,302.40Z"/><path d="M346.48,178.53 L347.64,179.24 L347.64,304.22 L346.48,303.31Z"/><path d="M347.64,179.24 L348.80,179.94 L348.80,305.10 L347.64,304.22Z"/><path d="M348.80,179.94 L349.96,180.65 L349.96,305.97 L348.80,305.10Z"/><path d="M349.96,180.65 L351.12,181.36 L351.12,306.83 L349.96,305.97Z"/><path d="M351.12,181.36 L352.28,182.08 L352.28,307.67 L351.12,306.83Z"/><path d="M352.28,182.08 L353.44,182.79 L353.44,308.49 L352.28,307.67Z"/><path d="M353.44,182.79 L354.60,183.51 L354.60,309.30 L353.44,308.49Z"/><path d="M354.60,183.51 L355.76,184.23 L355.76,310.10 L354.60,309.30Z"/><path d="M355.76,184.23 L356.92,184.96 L356.92,310.88 L355.76,310.10Z"/><path d="M356.92,184.96 L358.08,185.68 L358.08,311.65 L356.92,310.88Z"/><path d="M358.08,185.68 L359.24,186.41 L359.24,312.40 L358.08,311.65Z"/><path d="M359.24,186.41 L360.40,187.14 L360.40,313.14 L359.24,312.40Z"/><path d="M360.40,187.14 L361.56,187.87 L361.56,313.86 L360.40,313.14Z"/><path d="M361.56,187.87 L362.72,188.60 L362.72,314.57 L361.56,313.86Z"/><path d="M362.72,188.60 L363.88,189.33 L363.88,315.26 L362.72,314.57Z"/><path d="M363.88,189.33 L365.04,190.06 L365.04,315.95 L363.88,315.26Z"/><path d="M365.04,190.06 L366.20,190.80 L366.20,316.61 L365.04,315.95Z"/><path d="M366.20,190.80 L367.36,191.53 L367.36,317.27 L366.20,316.61Z"/><path d="M367.36,191.53 L368.52,192.27 L368.52,317.91 L367.36,317.27Z"/><path d="M368.52,192.27 L369.68,193.00 L369.68,318.54 L368.52,317.91Z"/><path d="M369.68,193.00 L370.84,193.74 L370.84,319.15 L369.68,318.54Z"/><path d="M370.84,193.74 L372.00,194.48 L372.00,319.75 L370.84,319.15Z"/><path d="M372.00,194.48 L373.16,195.21 L373.16,320.34 L372.00,319.75Z"/><path d="M373.16,195.21 L374.32,195.95 L374.32,320.92 L373.16,320.34Z"/><path d="M374.32,195.95 L375.48,196.69 L375.48,321.49 L374.32,320.92Z"/><path d="M375.48,196.69 L376.64,197.42 L376.64,322.04 L375.48,321.49Z"/><path d="M376.64,197.42 L377.80,198.16 L377.80,322.58 L376.64,322.04Z"/><path d="M377.80,198.16 L378.96,198.89 L378.96,323.10 L377.80,322.58Z"/><path d="M378.96,198.89 L380.12,199.63 L380.12,323.62 L378.96,323.10Z"/><path d="M380.12,199.63 L381.28,200.36 L381.28,324.12 L380.12,323.62Z"/><path d="M381.28,200.36 L382.44,201.10 L382.44,324.62 L381.28,324.12Z"/><path d="M382.44,201.10 L383.60,201.83 L383.60,325.10 L382.44,324.62Z"/><path d="M383.60,201.83 L384.76,202.56 L384.76,325.57 L383.60,325.10Z"/><path d="M384.76,202.56 L385.92,203.29 L385.92,326.03 L384.76,325.57Z"/><path d="M385.92,203.29 L387.08,204.02 L387.08,326.47 L385.92,326.03Z"/><path d="M387.08,204.02 L388.24,204.75 L388.24,326.91 L387.08,326.47Z"/><path d="M388.24,204.75 L389.40,205.48 L389.40,327.34 L388.24,326.91Z"/><path d="M389.40,205.48 L390.56,206.21 L390.56,327.75 L389.40,327.34Z"/><path d="M390.56,206.21 L391.72,206.93 L391.72,328.15 L390.56,327.75Z"/><path d="M391.72,206.93 L392.88,207.65 L392.88,328.55 L391.72,328.15Z"/><path d="M392.88,207.65 L394.04,208.38 L394.04,328.93 L392.88,328.55Z"/><path d="M394.04,208.38 L395.20,209.10 L395.20,329.31 L394.04,328.93Z"/><path d="M395.20,209.10 L396.36,209.81 L396.36,329.67 L395.20,329.31Z"/><path d="M396.36,209.81 L397.52,210.53 L397.52,330.02 L396.36,329.67Z"/><path d="M397.52,210.53 L398.68,211.24 L398.68,330.37 L397.52,330.02Z"/><path d="M398.68,211.24 L399.84,211.96 L399.84,330.70 L398.68,330.37Z"/><path d="M399.84,211.96 L401.00,212.67 L401.00,331.02 L399.84,330.70Z"/><path d="M401.00,212.67 L402.16,213.38 L402.16,331.34 L401.00,331.02Z"/><path d="M402.16,213.38 L403.32,214.08 L403.32,331.65 L402.16,331.34Z"/><path d="M403.32,214.08 L404.48,214.79 L404.48,331.94 L403.32,331.65Z"/><path d="M404.48,214.79 L405.64,215.49 L405.64,332.23 L404.48,331.94Z"/><path d="M405.64,215.49 L406.80,216.19 L406.80,332.51 L405.64,332.23Z"/><path d="M406.80,216.19 L407.96,216.88 L407.96,332.78 L406.80,332.51Z"/><path d="M407.96,216.88 L409.12,217.58 L409.12,333.04 L407.96,332.78Z"/><path d="M409.12,217.58 L410.28,218.27 L410.28,333.29 L409.12,333.04Z"/><path d="M410.28,218.27 L411.44,218.96 L411.44,333.54 L410.28,333.29Z"/><path d="M411.44,218.96 L412.60,219.64 L412.60,333.77 L411.44,333.54Z"/><path d="M412.60,219.64 L413.76,220.33 L413.76,334.00 L412.60,333.77Z"/><path d="M413.76,220.33 L414.92,221.01 L414.92,334.22 L413.76,334.00Z"/><path d="M414.92,221.01 L416.08,221.68 L416.08,334.43 L414.92,334.22Z"/><path d="M416.08,221.68 L417.24,222.36 L417.24,334.64 L416.08,334.43Z"/><path d="M417.24,222.36 L418.40,223.03 L418.40,334.83 L417.24,334.64Z"/><path d="M418.40,223.03 L419.56,223.70 L419.56,335.02 L418.40,334.83Z"/><path d="M419.56,223.70 L420.72,224.36 L420.72,335.20 L419.56,335.02Z"/><path d="M420.72,224.36 L421.88,225.03 L421.88,335.38 L420.72,335.20Z"/><path d="M421.88,225.03 L423.04,225.69 L423.04,335.54 L421.88,335.38Z"/><path d="M423.04,225.69 L424.20,226.34 L424.20,335.70 L423.04,335.54Z"/><path d="M424.20,226.34 L425.36,227.00 L425.36,335.86 L424.20,335.70Z"/><path d="M425.36,227.00 L426.52,227.65 L426.52,336.00 L425.36,335.86Z"/><path d="M426.52,227.65 L427.68,228.29 L427.68,336.14 L426.52,336.00Z"/><path d="M427.68,228.29 L428.84,228.93 L428.84,336.27 L427.68,336.14Z"/><path d="M428.84,228.93 L430.00,229.57 L430.00,336.40 L428.84,336.27Z"/><path d="M430.00,229.57 L431.16,230.21 L431.16,336.51 L430.00,336.40Z"/><path d="M431.16,230.21 L432.32,230.84 L432.32,336.63 L431.16,336.51Z"/><path d="M432.32,230.84 L433.48,231.47 L433.48,336.73 L432.32,336.63Z"/><path d="M433.48,231.47 L434.64,232.10 L434.64,336.83 L433.48,336.73Z"/><path d="M434.64,232.10 L435.80,232.72 L435.80,336.92 L434.64,336.83Z"/><path d="M435.80,232.72 L436.96,233.34 L436.96,337.01 L435.80,336.92Z"/><path d="M436.96,233.34 L438.12,233.95 L438.12,337.09 L436.96,337.01Z"/><path d="M438.12,233.95 L439.28,234.56 L439.28,337.17 L438.12,337.09Z"/><path d="M439.28,234.56 L440.44,235.17 L440.44,337.24 L439.28,337.17Z"/><path d="M440.44,235.17 L441.60,235.78 L441.60,337.30 L440.44,337.24Z"/><path d="M441.60,235.78 L442.76,236.38 L442.76,337.36 L441.60,337.30Z"/><path d="M442.76,236.38 L443.92,236.97 L443.92,337.41 L442.76,337.36Z"/><path d="M443.92,236.97 L445.08,237.56 L445.08,337.46 L443.92,337.41Z"/><path d="M445.08,237.56 L446.24,238.15 L446.24,337.50 L445.08,337.46Z"/><path d="M446.24,238.15 L447.40,238.74 L447.40,337.53 L446.24,337.50Z"/><path d="M447.40,238.74 L448.56,239.32 L448.56,337.57 L447.40,337.53Z"/><path d="M448.56,239.32 L449.72,239.90 L449.72,337.59 L448.56,337.57Z"/><path d="M449.72,239.90 L450.88,240.47 L450.88,337.61 L449.72,337.59Z"/><path d="M450.88,240.47 L452.04,241.04 L452.04,337.63 L450.88,337.61Z"/><path d="M452.04,241.04 L453.20,241.60 L453.20,337.64 L452.04,337.63Z"/><path d="M453.20,241.60 L454.36,242.17 L454.36,337.65 L453.20,337.64Z"/><path d="M454.36,242.17 L455.52,242.72 L455.52,337.65 L454.36,337.65Z"/><path d="M455.52,242.72 L456.68,243.28 L456.68,337.64 L455.52,337.65Z"/><path d="M456.68,243.28 L457.84,243.83 L457.84,337.64 L456.68,337.64Z"/><path d="M457.84,243.83 L459.00,244.37 L459.00,337.62 L457.84,337.64Z"/><path d="M459.00,244.37 L460.16,244.91 L460.16,337.61 L459.00,337.62Z"/><path d="M460.16,244.91 L461.32,245.45 L461.32,337.59 L460.16,337.61Z"/><path d="M461.32,245.45 L462.48,245.98 L462.48,337.56 L461.32,337.59Z"/><path d="M462.48,245.98 L463.64,246.51 L463.64,337.53 L462.48,337.56Z"/><path d="M463.64,246.51 L464.80,247.04 L464.80,337.50 L463.64,337.53Z"/><path d="M464.80,247.04 L465.96,247.56 L465.96,337.46 L464.80,337.50Z"/><path d="M465.96,247.56 L467.12,248.08 L467.12,337.42 L465.96,337.46Z"/><path d="M467.12,248.08 L468.28,248.59 L468.28,337.37 L467.12,337.42Z"/><path d="M468.28,248.59 L469.44,249.10 L469.44,337.32 L468.28,337.37Z"/><path d="M469.44,249.10 L470.60,249.60 L470.60,337.27 L469.44,337.32Z"/><path d="M470.60,249.60 L471.76,250.10 L471.76,337.21 L470.60,337.27Z"/><path d="M471.76,250.10 L472.92,250.60 L472.92,337.15 L471.76,337.21Z"/><path d="M472.92,250.60 L474.08,251.09 L474.08,337.09 L472.92,337.15Z"/><path d="M474.08,251.09 L475.24,251.58 L475.24,337.02 L474.08,337.09Z"/><path d="M475.24,251.58 L476.40,252.07 L476.40,336.95 L475.24,337.02Z"/><path d="M476.40,252.07 L477.56,252.55 L477.56,336.87 L476.40,336.95Z"/><path d="M477.56,252.55 L478.72,253.02 L478.72,336.79 L477.56,336.87Z"/><path d="M478.72,253.02 L479.88,253.49 L479.88,336.71 L478.72,336.79Z"/><path d="M479.88,253.49 L481.04,253.96 L481.04,336.63 L479.88,336.71Z"/><path d="M481.04,253.96 L482.20,254.43 L482.20,336.54 L481.04,336.63Z"/><path d="M482.20,254.43 L483.36,254.89 L483.36,336.45 L482.20,336.54Z"/><path d="M483.36,254.89 L484.52,255.34 L484.52,336.36 L483.36,336.45Z"/><path d="M484.52,255.34 L485.68,255.79 L485.68,336.26 L484.52,336.36Z"/><path d="M485.68,255.79 L486.84,256.24 L486.84,336.16 L485.68,336.26Z"/><path d="M486.84,256.24 L488.00,256.68 L488.00,336.05 L486.84,336.16Z"/><path d="M488.00,256.68 L489.16,257.12 L489.16,335.95 L488.00,336.05Z"/><path d="M489.16,257.12 L490.32,257.56 L490.32,335.84 L489.16,335.95Z"/><path d="M490.32,257.56 L491.48,257.99 L491.48,335.73 L490.32,335.84Z"/><path d="M491.48,257.99 L492.64,258.41 L492.64,335.61 L491.48,335.73Z"/><path d="M492.64,258.41 L493.80,258.84 L493.80,335.50 L492.64,335.61Z"/><path d="M493.80,258.84 L494.96,259.25 L494.96,335.38 L493.80,335.50Z"/><path d="M494.96,259.25 L496.12,259.67 L496.12,335.26 L494.96,335.38Z"/><path d="M496.12,259.67 L497.28,260.08 L497.28,335.13 L496.12,335.26Z"/><path d="M497.28,260.08 L498.44,260.48 L498.44,335.00 L497.28,335.13Z"/><path d="M498.44,260.48 L499.60,260.89 L499.60,334.87 L498.44,335.00Z"/><path d="M499.60,260.89 L500.76,261.28 L500.76,334.74 L499.60,334.87Z"/><path d="M500.76,261.28 L501.92,261.68 L501.92,334.61 L500.76,334.74Z"/><path d="M501.92,261.68 L503.08,262.07 L503.08,334.47 L501.92,334.61Z"/><path d="M503.08,262.07 L504.24,262.45 L504.24,334.33 L503.08,334.47Z"/><path d="M504.24,262.45 L505.40,262.83 L505.40,334.19 L504.24,334.33Z"/><path d="M505.40,262.83 L506.56,263.21 L506.56,334.05 L505.40,334.19Z"/><path d="M506.56,263.21 L507.72,263.59 L507.72,333.90 L506.56,334.05Z"/><path d="M507.72,263.59 L508.88,263.95 L508.88,333.75 L507.72,333.90Z"/><path d="M508.88,263.95 L510.04,264.32 L510.04,333.60 L508.88,333.75Z"/><path d="M510.04,264.32 L511.20,264.68 L511.20,333.45 L510.04,333.60Z"/><path d="M511.20,264.68 L512.36,265.04 L512.36,333.30 L511.20,333.45Z"/><path d="M512.36,265.04 L513.52,265.39 L513.52,333.14 L512.36,333.30Z"/><path d="M513.52,265.39 L514.68,265.74 L514.68,332.99 L513.52,333.14Z"/><path d="M514.68,265.74 L515.84,266.09 L515.84,332.83 L514.68,332.99Z"/><path d="M515.84,266.09 L517.00,266.43 L517.00,332.66 L515.84,332.83Z"/><path d="M517.00,266.43 L518.16,266.77 L518.16,332.50 L517.00,332.66Z"/><path d="M518.16,266.77 L519.32,267.10 L519.32,332.34 L518.16,332.50Z"/><path d="M519.32,267.10 L520.48,267.43 L520.48,332.17 L519.32,332.34Z"/><path d="M520.48,267.43 L521.64,267.76 L521.64,332.00 L520.48,332.17Z"/><path d="M521.64,267.76 L522.80,268.08 L522.80,331.83 L521.64,332.00Z"/><path d="M522.80,268.08 L523.96,268.40 L523.96,331.66 L522.80,331.83Z"/><path d="M523.96,268.40 L525.12,268.71 L525.12,331.49 L523.96,331.66Z"/><path d="M525.12,268.71 L526.28,269.02 L526.28,331.31 L525.12,331.49Z"/><path d="M526.28,269.02 L527.44,269.33 L527.44,331.14 L526.28,331.31Z"/><path d="M527.44,269.33 L528.60,269.63 L528.60,330.96 L527.44,331.14Z"/><path d="M528.60,269.63 L529.76,269.93 L529.76,330.78 L528.60,330.96Z"/><path d="M529.76,269.93 L530.92,270.23 L530.92,330.60 L529.76,330.78Z"/><path d="M530.92,270.23 L532.08,270.52 L532.08,330.42 L530.92,330.60Z"/><path d="M532.08,270.52 L533.24,270.81 L533.24,330.23 L532.08,330.42Z"/><path d="M533.24,270.81 L534.40,271.09 L534.40,330.05 L533.24,330.23Z"/><path d="M534.40,271.09 L535.56,271.37 L535.56,329.86 L534.40,330.05Z"/><path d="M535.56,271.37 L536.72,271.65 L536.72,329.67 L535.56,329.86Z"/><path d="M536.72,271.65 L537.88,271.92 L537.88,329.48 L536.72,329.67Z"/><path d="M537.88,271.92 L539.04,272.19 L539.04,329.29 L537.88,329.48Z"/><path d="M539.04,272.19 L540.20,272.45 L540.20,329.10 L539.04,329.29Z"/><path d="M540.20,272.45 L541.36,272.72 L541.36,328.91 L540.20,329.10Z"/><path d="M541.36,272.72 L542.52,272.97 L542.52,328.72 L541.36,328.91Z"/><path d="M542.52,272.97 L543.68,273.23 L543.68,328.52 L542.52,328.72Z"/><path d="M543.68,273.23 L544.84,273.48 L544.84,328.33 L543.68,328.52Z"/><path d="M544.84,273.48 L546.00,273.73 L546.00,328.13 L544.84,328.33Z"/><path d="M546.00,273.73 L547.16,273.97 L547.16,327.93 L546.00,328.13Z"/><path d="M547.16,273.97 L548.32,274.21 L548.32,327.73 L547.16,327.93Z"/><path d="M548.32,274.21 L549.48,274.45 L549.48,327.53 L548.32,327.73Z"/><path d="M549.48,274.45 L550.64,274.68 L550.64,327.33 L549.48,327.53Z"/><path d="M550.64,274.68 L551.80,274.91 L551.80,327.13 L550.64,327.33Z"/><path d="M551.80,274.91 L552.96,275.14 L552.96,326.92 L551.80,327.13Z"/><path d="M552.96,275.14 L554.12,275.36 L554.12,326.72 L552.96,326.92Z"/><path d="M554.12,275.36 L555.28,275.58 L555.28,326.52 L554.12,326.72Z"/><path d="M555.28,275.58 L556.44,275.79 L556.44,326.31 L555.28,326.52Z"/><path d="M556.44,275.79 L557.60,276.01 L557.60,326.10 L556.44,326.31Z"/><path d="M557.60,276.01 L558.76,276.22 L558.76,325.89 L557.60,326.10Z"/><path d="M558.76,276.22 L559.92,276.42 L559.92,325.69 L558.76,325.89Z"/><path d="M559.92,276.42 L561.08,276.62 L561.08,325.48 L559.92,325.69Z"/><path d="M561.08,276.62 L562.24,276.82 L562.24,325.27 L561.08,325.48Z"/><path d="M562.24,276.82 L563.40,277.02 L563.40,325.06 L562.24,325.27Z"/><path d="M563.40,277.02 L564.56,277.21 L564.56,324.84 L563.40,325.06Z"/><path d="M564.56,277.21 L565.72,277.40 L565.72,324.63 L564.56,324.84Z"/><path d="M565.72,277.40 L566.88,277.58 L566.88,324.42 L565.72,324.63Z"/><path d="M566.88,277.58 L568.04,277.77 L568.04,324.20 L566.88,324.42Z"/><path d="M568.04,277.77 L569.20,277.95 L569.20,323.99 L568.04,324.20Z"/><path d="M569.20,277.95 L570.36,278.12 L570.36,323.77 L569.20,323.99Z"/><path d="M570.36,278.12 L571.52,278.29 L571.52,323.56 L570.36,323.77Z"/><path d="M571.52,278.29 L572.68,278.46 L572.68,323.34 L571.52,323.56Z"/><path d="M572.68,278.46 L573.84,278.63 L573.84,323.12 L572.68,323.34Z"/><path d="M573.84,278.63 L575.00,278.79 L575.00,322.90 L573.84,323.12Z"/><path d="M575.00,278.79 L576.16,278.95 L576.16,322.69 L575.00,322.90Z"/><path d="M576.16,278.95 L577.32,279.11 L577.32,322.47 L576.16,322.69Z"/><path d="M577.32,279.11 L578.48,279.26 L578.48,322.25 L577.32,322.47Z"/><path d="M578.48,279.26 L579.64,279.42 L579.64,322.03 L578.48,322.25Z"/><path d="M579.64,279.42 L580.80,279.56 L580.80,321.80 L579.64,322.03Z"/><path d="M580.80,279.56 L581.96,279.71 L581.96,321.58 L580.80,321.80Z"/><path d="M581.96,279.71 L583.12,279.85 L583.12,321.36 L581.96,321.58Z"/><path d="M583.12,279.85 L584.28,279.99 L584.28,321.14 L583.12,321.36Z"/><path d="M584.28,279.99 L585.44,280.12 L585.44,320.92 L584.28,321.14Z"/><path d="M585.44,280.12 L586.60,280.26 L586.60,320.69 L585.44,320.92Z"/><path d="M586.60,280.26 L587.76,280.39 L587.76,320.47 L586.60,320.69Z"/><path d="M587.76,280.39 L588.92,280.51 L588.92,320.24 L587.76,320.47Z"/><path d="M588.92,280.51 L590.08,280.64 L590.08,320.02 L588.92,320.24Z"/><path d="M590.08,280.64 L591.24,280.76 L591.24,319.79 L590.08,320.02Z"/><path d="M591.24,280.76 L592.40,280.88 L592.40,319.57 L591.24,319.79Z"/><path d="M592.40,280.88 L593.56,280.99 L593.56,319.34 L592.40,319.57Z"/><path d="M593.56,280.99 L594.72,281.10 L594.72,319.11 L593.56,319.34Z"/><path d="M594.72,281.10 L595.88,281.21 L595.88,318.89 L594.72,319.11Z"/><path d="M595.88,281.21 L597.04,281.32 L597.04,318.66 L595.88,318.89Z"/><path d="M597.04,281.32 L598.20,281.42 L598.20,318.43 L597.04,318.66Z"/><path d="M598.20,281.42 L599.36,281.53 L599.36,318.20 L598.20,318.43Z"/><path d="M599.36,281.53 L600.52,281.62 L600.52,317.97 L599.36,318.20Z"/><path d="M600.52,281.62 L601.68,281.72 L601.68,317.75 L600.52,317.97Z"/><path d="M601.68,281.72 L602.84,281.81 L602.84,317.52 L601.68,317.75Z"/><path d="M602.84,281.81 L604.00,281.90 L604.00,317.29 L602.84,317.52Z"/><path d="M604.00,281.90 L605.16,281.99 L605.16,317.06 L604.00,317.29Z"/><path d="M605.16,281.99 L606.32,282.08 L606.32,316.83 L605.16,317.06Z"/><path d="M606.32,282.08 L607.48,282.16 L607.48,316.60 L606.32,316.83Z"/><path d="M607.48,282.16 L608.64,282.24 L608.64,316.37 L607.48,316.60Z"/><path d="M608.64,282.24 L609.80,282.32 L609.80,316.13 L608.64,316.37Z"/><path d="M609.80,282.32 L610.96,282.39 L610.96,315.90 L609.80,316.13Z"/><path d="M610.96,282.39 L612.12,282.46 L612.12,315.67 L610.96,315.90Z"/><path d="M612.12,282.46 L613.28,282.53 L613.28,315.44 L612.12,315.67Z"/><path d="M613.28,282.53 L614.44,282.60 L614.44,315.21 L613.28,315.44Z"/><path d="M614.44,282.60 L615.60,282.66 L615.60,314.98 L614.44,315.21Z"/><path d="M615.60,282.66 L616.76,282.73 L616.76,314.74 L615.60,314.98Z"/><path d="M616.76,282.73 L617.92,282.79 L617.92,314.51 L616.76,314.74Z"/><path d="M617.92,282.79 L619.08,282.84 L619.08,314.28 L617.92,314.51Z"/><path d="M619.08,282.84 L620.24,282.90 L620.24,314.04 L619.08,314.28Z"/><path d="M620.24,282.90 L621.40,282.95 L621.40,313.81 L620.24,314.04Z"/><path d="M621.40,282.95 L622.56,283.00 L622.56,313.58 L621.40,313.81Z"/><path d="M622.56,283.00 L623.72,283.05 L623.72,313.34 L622.56,313.58Z"/><path d="M623.72,283.05 L624.88,283.09 L624.88,313.11 L623.72,313.34Z"/><path d="M624.88,283.09 L626.04,283.13 L626.04,312.88 L624.88,313.11Z"/><path d="M626.04,283.13 L627.20,283.17 L627.20,312.64 L626.04,312.88Z"/><path d="M627.20,283.17 L628.36,283.21 L628.36,312.41 L627.20,312.64Z"/><path d="M628.36,283.21 L629.52,283.25 L629.52,312.17 L628.36,312.41Z"/><path d="M629.52,283.25 L630.68,283.28 L630.68,311.94 L629.52,312.17Z"/><path d="M630.68,283.28 L631.84,283.31 L631.84,311.70 L630.68,311.94Z"/><path d="M631.84,283.31 L633.00,283.34 L633.00,311.47 L631.84,311.70Z"/><path d="M633.00,283.34 L634.16,283.37 L634.16,311.23 L633.00,311.47Z"/><path d="M634.16,283.37 L635.32,283.39 L635.32,311.00 L634.16,311.23Z"/><path d="M635.32,283.39 L636.48,283.42 L636.48,310.76 L635.32,311.00Z"/><path d="M636.48,283.42 L637.64,283.44 L637.64,310.53 L636.48,310.76Z"/><path d="M637.64,283.44 L638.80,283.45 L638.80,310.29 L637.64,310.53Z"/><path d="M638.80,283.45 L639.96,283.47 L639.96,310.06 L638.80,310.29Z"/><path d="M639.96,283.47 L641.12,283.48 L641.12,309.82 L639.96,310.06Z"/><path d="M641.12,283.48 L642.28,283.49 L642.28,309.59 L641.12,309.82Z"/><path d="M642.28,283.49 L643.44,283.50 L643.44,309.35 L642.28,309.59Z"/><path d="M643.44,283.50 L644.60,283.51 L644.60,309.11 L643.44,309.35Z"/><path d="M644.60,283.51 L645.76,283.52 L645.76,308.88 L644.60,309.11Z"/><path d="M645.76,283.52 L646.92,283.52 L646.92,308.64 L645.76,308.88Z"/><path d="M646.92,283.52 L648.08,283.52 L648.08,308.41 L646.92,308.64Z"/><path d="M648.08,283.52 L649.24,283.52 L649.24,308.17 L648.08,308.41Z"/><path d="M649.24,283.52 L650.40,283.52 L650.40,307.93 L649.24,308.17Z"/><path d="M650.40,283.52 L651.56,283.51 L651.56,307.70 L650.40,307.93Z"/><path d="M651.56,283.51 L652.72,283.51 L652.72,307.46 L651.56,307.70Z"/><path d="M652.72,283.51 L653.88,283.50 L653.88,307.22 L652.72,307.46Z"/><path d="M653.88,283.50 L655.04,283.49 L655.04,306.99 L653.88,307.22Z"/><path d="M655.04,283.49 L656.20,283.47 L656.20,306.75 L655.04,306.99Z"/><path d="M656.20,283.47 L657.36,283.46 L657.36,306.52 L656.20,306.75Z"/><path d="M657.36,283.46 L658.52,283.44 L658.52,306.28 L657.36,306.52Z"/><path d="M658.52,283.44 L659.68,283.42 L659.68,306.04 L658.52,306.28Z"/><path d="M659.68,283.42 L660.84,283.40 L660.84,305.81 L659.68,306.04Z"/><path d="M660.84,283.40 L662.00,283.38 L662.00,305.57 L660.84,305.81Z"/><path d="M662.00,283.38 L663.16,283.36 L663.16,305.33 L662.00,305.57Z"/><path d="M663.16,283.36 L664.32,283.33 L664.32,305.10 L663.16,305.33Z"/><path d="M664.32,283.33 L665.48,283.31 L665.48,304.86 L664.32,305.10Z"/><path d="M665.48,283.31 L666.64,283.28 L666.64,304.62 L665.48,304.86Z"/><path d="M666.64,283.28 L667.80,283.25 L667.80,304.39 L666.64,304.62Z"/></g>
<path d="M87.80,431.10 L88.96,431.00 L90.12,430.72 L91.28,430.26 L92.44,429.65 L93.60,428.88 L94.76,427.98 L95.92,426.96 L97.08,425.82 L98.24,424.58 L99.40,423.24 L100.56,421.82 L101.72,420.32 L102.88,418.75 L104.04,417.12 L105.20,415.43 L106.36,413.70 L107.52,411.93 L108.68,410.12 L109.84,408.29 L111.00,406.42 L112.16,404.54 L113.32,402.65 L114.48,400.74 L115.64,398.83 L116.80,396.92 L117.96,395.01 L119.12,393.10 L120.28,391.21 L121.44,389.32 L122.60,387.45 L123.76,385.59 L124.92,383.75 L126.08,381.94 L127.24,380.14 L128.40,378.37 L129.56,376.63 L130.72,374.91 L131.88,373.23 L133.04,371.57 L134.20,369.95 L135.36,368.36 L136.52,366.80 L137.68,365.27 L138.84,363.78 L140.00,362.33 L141.16,360.91 L142.32,359.53 L143.48,358.19 L144.64,356.88 L145.80,355.61 L146.96,354.38 L148.12,353.18 L149.28,352.02 L150.44,350.90 L151.60,349.82 L152.76,348.78 L153.92,347.77 L155.08,346.80 L156.24,345.86 L157.40,344.97 L158.56,344.10 L159.72,343.28 L160.88,342.48 L162.04,341.73 L163.20,341.01 L164.36,340.32 L165.52,339.66 L166.68,339.04 L167.84,338.45 L169.00,337.89 L170.16,337.37 L171.32,336.87 L172.48,336.41 L173.64,335.97 L174.80,335.56 L175.96,335.18 L177.12,334.83 L178.28,334.51 L179.44,334.21 L180.60,333.94 L181.76,333.69 L182.92,333.47 L184.08,333.28 L185.24,333.10 L186.40,332.95 L187.56,332.82 L188.72,332.72 L189.88,332.63 L191.04,332.56 L192.20,332.52 L193.36,332.49 L194.52,332.48 L195.68,332.49 L196.84,332.52 L198.00,332.56 L199.16,332.62 L200.32,332.70 L201.48,332.79 L202.64,332.90 L203.80,333.02 L204.96,333.15 L206.12,333.29 L207.28,333.43 L208.44,333.56 L209.60,333.68 L210.76,333.80 L211.92,333.91 L213.08,334.01 L214.24,334.11 L215.40,334.21 L216.56,334.30 L217.72,334.38 L218.88,334.46 L220.04,334.53 L221.20,334.60 L222.36,334.66 L223.52,334.72 L224.68,334.77 L225.84,334.82 L227.00,334.87 L228.16,334.91 L229.32,334.94 L230.48,334.98 L231.64,335.00 L232.80,335.03 L233.96,335.05 L235.12,335.06 L236.28,335.08 L237.44,335.08 L238.60,335.09 L239.76,335.09 L240.92,335.09 L242.08,335.08 L243.24,335.07 L244.40,335.06 L245.56,335.04 L246.72,335.02 L247.88,335.00 L249.04,334.98 L250.20,334.95 L251.36,334.92 L252.52,334.88 L253.68,334.84 L254.84,334.81 L256.00,334.76 L257.16,334.72 L258.32,334.67 L259.48,334.62 L260.64,334.56 L261.80,334.51 L262.96,334.45 L264.12,334.39 L265.28,334.32 L266.44,334.26 L267.60,334.19 L268.76,334.12 L269.92,334.05 L271.08,333.97 L272.24,333.89 L273.40,333.81 L274.56,333.73 L275.72,333.65 L276.88,333.56 L278.04,333.48 L279.20,333.39 L280.36,333.30 L281.52,333.20 L282.68,333.10 L283.84,333.01 L285.00,332.91 L286.16,332.81 L287.32,332.70 L288.48,332.60 L289.64,332.49 L290.80,332.39 L291.96,332.28 L293.12,332.16 L294.28,332.05 L295.44,331.94 L296.60,331.82 L297.76,331.70 L298.92,331.59 L300.08,331.48 L301.24,331.38 L302.40,331.27 L303.56,331.17 L304.72,331.07 L305.88,330.98 L307.04,330.88 L308.20,330.79 L309.36,330.70 L310.52,330.62 L311.68,330.54 L312.84,330.45 L314.00,330.37 L315.16,330.30 L316.32,330.22 L317.48,330.15 L318.64,330.08 L319.80,330.01 L320.96,329.94 L322.12,329.88 L323.28,329.81 L324.44,329.75 L325.60,329.69 L326.76,329.63 L327.92,329.58 L329.08,329.52 L330.24,329.47 L331.40,329.42 L332.56,329.36 L333.72,329.31 L334.88,329.27 L336.04,329.22 L337.20,329.17 L338.36,329.13 L339.52,329.08 L340.68,329.04 L341.84,329.00 L343.00,328.96 L344.16,328.92 L345.32,328.88 L346.48,328.84 L347.64,328.80 L348.80,328.77 L349.96,328.73 L351.12,328.69 L352.28,328.66 L353.44,328.63 L354.60,328.59 L355.76,328.56 L356.92,328.53 L358.08,328.50 L359.24,328.46 L360.40,328.43 L361.56,328.40 L362.72,328.37 L363.88,328.34 L365.04,328.31 L366.20,328.28 L367.36,328.25 L368.52,328.22 L369.68,328.19 L370.84,328.17 L372.00,328.14 L373.16,328.11 L374.32,328.08 L375.48,328.05 L376.64,328.02 L377.80,327.99 L378.96,327.96 L380.12,327.94 L381.28,327.91 L382.44,327.88 L383.60,327.85 L384.76,327.82 L385.92,327.79 L387.08,327.76 L388.24,327.73 L389.40,327.70 L390.56,327.67 L391.72,327.64 L392.88,327.61 L394.04,327.58 L395.20,327.54 L396.36,327.51 L397.52,327.48 L398.68,327.45 L399.84,327.41 L401.00,327.38 L402.16,327.34 L403.32,327.31 L404.48,327.27 L405.64,327.24 L406.80,327.20 L407.96,327.16 L409.12,327.13 L410.28,327.09 L411.44,327.05 L412.60,327.01 L413.76,326.97 L414.92,326.93 L416.08,326.89 L417.24,326.85 L418.40,326.80 L419.56,326.76 L420.72,326.72 L421.88,326.67 L423.04,326.63 L424.20,326.58 L425.36,326.53 L426.52,326.49 L427.68,326.44 L428.84,326.39 L430.00,326.34 L431.16,326.29 L432.32,326.24 L433.48,326.19 L434.64,326.13 L435.80,326.08 L436.96,326.03 L438.12,325.97 L439.28,325.91 L440.44,325.86 L441.60,325.80 L442.76,325.74 L443.92,325.68 L445.08,325.62 L446.24,325.56 L447.40,325.50 L448.56,325.44 L449.72,325.37 L450.88,325.31 L452.04,325.24 L453.20,325.18 L454.36,325.11 L455.52,325.04 L456.68,324.97 L457.84,324.90 L459.00,324.83 L460.16,324.76 L461.32,324.69 L462.48,324.61 L463.64,324.54 L464.80,324.47 L465.96,324.39 L467.12,324.31 L468.28,324.23 L469.44,324.16 L470.60,324.08 L471.76,324.00 L472.92,323.91 L474.08,323.83 L475.24,323.75 L476.40,323.66 L477.56,323.58 L478.72,323.49 L479.88,323.41 L481.04,323.32 L482.20,323.23 L483.36,323.14 L484.52,323.05 L485.68,322.96 L486.84,322.86 L488.00,322.77 L489.16,322.68 L490.32,322.58 L491.48,322.48 L492.64,322.39 L493.80,322.29 L494.96,322.19 L496.12,322.09 L497.28,321.99 L498.44,321.89 L499.60,321.79 L500.76,321.68 L501.92,321.58 L503.08,321.47 L504.24,321.37 L505.40,321.26 L506.56,321.15 L507.72,321.04 L508.88,320.94 L510.04,320.82 L511.20,320.71 L512.36,320.60 L513.52,320.49 L514.68,320.37 L515.84,320.26 L517.00,320.14 L518.16,320.03 L519.32,319.91 L520.48,319.79 L521.64,319.67 L522.80,319.55 L523.96,319.43 L525.12,319.31 L526.28,319.19 L527.44,319.07 L528.60,318.94 L529.76,318.82 L530.92,318.69 L532.08,318.57 L533.24,318.44 L534.40,318.31 L535.56,318.18 L536.72,318.05 L537.88,317.92 L539.04,317.79 L540.20,317.66 L541.36,317.53 L542.52,317.39 L543.68,317.26 L544.84,317.12 L546.00,316.99 L547.16,316.85 L548.32,316.71 L549.48,316.57 L550.64,316.44 L551.80,316.30 L552.96,316.16 L554.12,316.01 L555.28,315.87 L556.44,315.73 L557.60,315.59 L558.76,315.44 L559.92,315.30 L561.08,315.15 L562.24,315.01 L563.40,314.86 L564.56,314.71 L565.72,314.56 L566.88,314.42 L568.04,314.27 L569.20,314.12 L570.36,313.97 L571.52,313.81 L572.68,313.66 L573.84,313.51 L575.00,313.36 L576.16,313.20 L577.32,313.05 L578.48,312.89 L579.64,312.74 L580.80,312.58 L581.96,312.42 L583.12,312.26 L584.28,312.10 L585.44,311.95 L586.60,311.79 L587.76,311.63 L588.92,311.46 L590.08,311.30 L591.24,311.14 L592.40,310.98 L593.56,310.82 L594.72,310.65 L595.88,310.49 L597.04,310.32 L598.20,310.16 L599.36,309.99 L600.52,309.82 L601.68,309.66 L602.84,309.49 L604.00,309.32 L605.16,309.15 L606.32,308.98 L607.48,308.81 L608.64,308.64 L609.80,308.47 L610.96,308.30 L612.12,308.13 L613.28,307.96 L614.44,307.78 L615.60,307.61 L616.76,307.44 L617.92,307.26 L619.08,307.09 L620.24,306.91 L621.40,306.74 L622.56,306.56 L623.72,306.38 L624.88,306.21 L626.04,306.03 L627.20,305.85 L628.36,305.67 L629.52,305.49 L630.68,305.31 L631.84,305.13 L633.00,304.95 L634.16,304.77 L635.32,304.59 L636.48,304.41 L637.64,304.23 L638.80,304.05 L639.96,303.86 L641.12,303.68 L642.28,303.50 L643.44,303.31 L644.60,303.13 L645.76,302.95 L646.92,302.76 L648.08,302.57 L649.24,302.39 L650.40,302.20 L651.56,302.02 L652.72,301.83 L653.88,301.64 L655.04,301.45 L656.20,301.27 L657.36,301.08 L658.52,300.89 L659.68,300.70 L660.84,300.51 L662.00,300.32 L663.16,300.13 L664.32,299.94 L665.48,299.75 L666.64,299.56 L667.80,299.37 L667.80,304.69 L666.64,304.94 L665.48,305.18 L664.32,305.42 L663.16,305.67 L662.00,305.91 L660.84,306.15 L659.68,306.40 L658.52,306.64 L657.36,306.88 L656.20,307.13 L655.04,307.37 L653.88,307.62 L652.72,307.86 L651.56,308.11 L650.40,308.35 L649.24,308.60 L648.08,308.84 L646.92,309.09 L645.76,309.33 L644.60,309.58 L643.44,309.82 L642.28,310.07 L641.12,310.31 L639.96,310.56 L638.80,310.81 L637.64,311.05 L636.48,311.30 L635.32,311.54 L634.16,311.79 L633.00,312.04 L631.84,312.28 L630.68,312.53 L629.52,312.78 L628.36,313.02 L627.20,313.27 L626.04,313.52 L624.88,313.77 L623.72,314.01 L622.56,314.26 L621.40,314.51 L620.24,314.76 L619.08,315.00 L617.92,315.25 L616.76,315.50 L615.60,315.75 L614.44,315.99 L613.28,316.24 L612.12,316.49 L610.96,316.74 L609.80,316.99 L608.64,317.24 L607.48,317.48 L606.32,317.73 L605.16,317.98 L604.00,318.23 L602.84,318.48 L601.68,318.73 L600.52,318.98 L599.36,319.23 L598.20,319.48 L597.04,319.72 L595.88,319.97 L594.72,320.22 L593.56,320.47 L592.40,320.72 L591.24,320.97 L590.08,321.22 L588.92,321.47 L587.76,321.72 L586.60,321.97 L585.44,322.22 L584.28,322.47 L583.12,322.72 L581.96,322.97 L580.80,323.22 L579.64,323.47 L578.48,323.71 L577.32,323.96 L576.16,324.21 L575.00,324.46 L573.84,324.71 L572.68,324.96 L571.52,325.21 L570.36,325.46 L569.20,325.71 L568.04,325.96 L566.88,326.21 L565.72,326.46 L564.56,326.71 L563.40,326.96 L562.24,327.21 L561.08,327.46 L559.92,327.70 L558.76,327.95 L557.60,328.20 L556.44,328.45 L555.28,328.70 L554.12,328.95 L552.96,329.20 L551.80,329.45 L550.64,329.69 L549.48,329.94 L548.32,330.19 L547.16,330.44 L546.00,330.69 L544.84,330.93 L543.68,331.18 L542.52,331.43 L541.36,331.68 L540.20,331.92 L539.04,332.17 L537.88,332.42 L536.72,332.66 L535.56,332.91 L534.40,333.16 L533.24,333.40 L532.08,333.65 L530.92,333.89 L529.76,334.14 L528.60,334.38 L527.44,334.63 L526.28,334.87 L525.12,335.12 L523.96,335.36 L522.80,335.61 L521.64,335.85 L520.48,336.09 L519.32,336.34 L518.16,336.58 L517.00,336.82 L515.84,337.07 L514.68,337.31 L513.52,337.55 L512.36,337.79 L511.20,338.03 L510.04,338.27 L508.88,338.51 L507.72,338.75 L506.56,338.99 L505.40,339.23 L504.24,339.47 L503.08,339.71 L501.92,339.94 L500.76,340.18 L499.60,340.42 L498.44,340.65 L497.28,340.89 L496.12,341.13 L494.96,341.36 L493.80,341.59 L492.64,341.83 L491.48,342.06 L490.32,342.29 L489.16,342.53 L488.00,342.76 L486.84,342.99 L485.68,343.22 L484.52,343.45 L483.36,343.68 L482.20,343.91 L481.04,344.13 L479.88,344.36 L478.72,344.59 L477.56,344.81 L476.40,345.04 L475.24,345.26 L474.08,345.49 L472.92,345.71 L471.76,345.93 L470.60,346.15 L469.44,346.37 L468.28,346.59 L467.12,346.81 L465.96,347.03 L464.80,347.24 L463.64,347.46 L462.48,347.68 L461.32,347.89 L460.16,348.10 L459.00,348.31 L457.84,348.53 L456.68,348.74 L455.52,348.94 L454.36,349.15 L453.20,349.36 L452.04,349.57 L450.88,349.77 L449.72,349.97 L448.56,350.18 L447.40,350.38 L446.24,350.58 L445.08,350.78 L443.92,350.97 L442.76,351.17 L441.60,351.37 L440.44,351.56 L439.28,351.75 L438.12,351.94 L436.96,352.13 L435.80,352.32 L434.64,352.51 L433.48,352.69 L432.32,352.88 L431.16,353.06 L430.00,353.24 L428.84,353.42 L427.68,353.60 L426.52,353.77 L425.36,353.95 L424.20,354.12 L423.04,354.29 L421.88,354.46 L420.72,354.63 L419.56,354.79 L418.40,354.96 L417.24,355.12 L416.08,355.28 L414.92,355.44 L413.76,355.60 L412.60,355.75 L411.44,355.90 L410.28,356.05 L409.12,356.20 L407.96,356.35 L406.80,356.49 L405.64,356.63 L404.48,356.78 L403.32,356.91 L402.16,357.05 L401.00,357.18 L399.84,357.31 L398.68,357.44 L397.52,357.57 L396.36,357.69 L395.20,357.81 L394.04,357.93 L392.88,358.05 L391.72,358.16 L390.56,358.28 L389.40,358.38 L388.24,358.49 L387.08,358.59 L385.92,358.70 L384.76,358.79 L383.60,358.89 L382.44,358.98 L381.28,359.07 L380.12,359.16 L378.96,359.24 L377.80,359.32 L376.64,359.40 L375.48,359.48 L374.32,359.55 L373.16,359.62 L372.00,359.68 L370.84,359.75 L369.68,359.81 L368.52,359.86 L367.36,359.92 L366.20,359.96 L365.04,360.01 L363.88,360.05 L362.72,360.09 L361.56,360.13 L360.40,360.16 L359.24,360.19 L358.08,360.22 L356.92,360.24 L355.76,360.25 L354.60,360.27 L353.44,360.28 L352.28,360.29 L351.12,360.29 L349.96,360.29 L348.80,360.28 L347.64,360.27 L346.48,360.26 L345.32,360.25 L344.16,360.23 L343.00,360.20 L341.84,360.17 L340.68,360.14 L339.52,360.10 L338.36,360.06 L337.20,360.02 L336.04,359.97 L334.88,359.91 L333.72,359.85 L332.56,359.79 L331.40,359.72 L330.24,359.65 L329.08,359.58 L327.92,359.50 L326.76,359.41 L325.60,359.32 L324.44,359.23 L323.28,359.13 L322.12,359.03 L320.96,358.92 L319.80,358.81 L318.64,358.70 L317.48,358.58 L316.32,358.45 L315.16,358.32 L314.00,358.19 L312.84,358.05 L311.68,357.90 L310.52,357.75 L309.36,357.60 L308.20,357.44 L307.04,357.28 L305.88,357.11 L304.72,356.94 L303.56,356.76 L302.40,356.58 L301.24,356.39 L300.08,356.20 L298.92,356.01 L297.76,355.81 L296.60,355.60 L295.44,355.39 L294.28,355.18 L293.12,354.96 L291.96,354.74 L290.80,354.51 L289.64,354.28 L288.48,354.04 L287.32,353.80 L286.16,353.56 L285.00,353.31 L283.84,353.05 L282.68,352.80 L281.52,352.54 L280.36,352.27 L279.20,352.00 L278.04,351.73 L276.88,351.45 L275.72,351.17 L274.56,350.88 L273.40,350.59 L272.24,350.30 L271.08,350.00 L269.92,349.70 L268.76,349.40 L267.60,349.09 L266.44,348.79 L265.28,348.47 L264.12,348.16 L262.96,347.84 L261.80,347.52 L260.64,347.20 L259.48,346.87 L258.32,346.55 L257.16,346.22 L256.00,345.89 L254.84,345.55 L253.68,345.22 L252.52,344.89 L251.36,344.55 L250.20,344.21 L249.04,343.87 L247.88,343.53 L246.72,343.20 L245.56,342.86 L244.40,342.52 L243.24,342.18 L242.08,341.95 L240.92,342.29 L239.76,342.64 L238.60,343.00 L237.44,343.37 L236.28,343.74 L235.12,344.12 L233.96,344.50 L232.80,344.90 L231.64,345.30 L230.48,345.70 L229.32,346.12 L228.16,346.54 L227.00,346.97 L225.84,347.41 L224.68,347.85 L223.52,348.30 L222.36,348.76 L221.20,349.23 L220.04,349.71 L218.88,350.19 L217.72,350.68 L216.56,351.18 L215.40,351.69 L214.24,352.20 L213.08,352.72 L211.92,353.25 L210.76,353.79 L209.60,354.34 L208.44,354.90 L207.28,355.46 L206.12,356.03 L204.96,356.61 L203.80,357.20 L202.64,357.80 L201.48,358.41 L200.32,359.02 L199.16,359.64 L198.00,360.27 L196.84,360.91 L195.68,361.56 L194.52,362.22 L193.36,362.88 L192.20,363.56 L191.04,364.24 L189.88,364.93 L188.72,365.63 L187.56,366.33 L186.40,367.05 L185.24,367.77 L184.08,368.50 L182.92,369.24 L181.76,369.99 L180.60,370.74 L179.44,371.51 L178.28,372.28 L177.12,373.06 L175.96,373.85 L174.80,374.64 L173.64,375.44 L172.48,376.25 L171.32,377.07 L170.16,377.89 L169.00,378.72 L167.84,379.56 L166.68,380.41 L165.52,381.26 L164.36,382.12 L163.20,382.98 L162.04,383.85 L160.88,384.72 L159.72,385.61 L158.56,386.49 L157.40,387.38 L156.24,388.28 L155.08,389.18 L153.92,390.09 L152.76,391.00 L151.60,391.91 L150.44,392.83 L149.28,393.75 L148.12,394.67 L146.96,395.60 L145.80,396.52 L144.64,397.45 L143.48,398.38 L142.32,399.32 L141.16,400.25 L140.00,401.18 L138.84,402.11 L137.68,403.04 L136.52,403.97 L135.36,404.90 L134.20,405.82 L133.04,406.75 L131.88,407.67 L130.72,408.58 L129.56,409.49 L128.40,410.39 L127.24,411.29 L126.08,412.18 L124.92,413.06 L123.76,413.94 L122.60,414.81 L121.44,415.66 L120.28,416.51 L119.12,417.34 L117.96,418.16 L116.80,418.97 L115.64,419.76 L114.48,420.54 L113.32,421.30 L112.16,422.04 L111.00,422.77 L109.84,423.47 L108.68,424.15 L107.52,424.81 L106.36,425.45 L105.20,426.06 L104.04,426.65 L102.88,427.21 L101.72,427.73 L100.56,428.23 L99.40,428.69 L98.24,429.12 L97.08,429.51 L95.92,429.87 L94.76,430.18 L93.60,430.45 L92.44,430.68 L91.28,430.86 L90.12,430.99 L88.96,431.07 L87.80,431.10Z" fill="#ccfdce"/><g fill="#bdfbc0"><path d="M87.80,431.10 L88.96,431.00 L88.96,431.07 L87.80,431.10Z"/><path d="M88.96,431.00 L90.12,430.72 L90.12,430.99 L88.96,431.07Z"/><path d="M90.12,430.72 L91.28,430.26 L91.28,430.86 L90.12,430.99Z"/><path d="M91.28,430.26 L92.44,429.65 L92.44,430.68 L91.28,430.86Z"/><path d="M92.44,429.65 L93.60,428.88 L93.60,430.45 L92.44,430.68Z"/><path d="M93.60,428.88 L94.76,427.98 L94.76,430.18 L93.60,430.45Z"/><path d="M94.76,427.98 L95.92,426.96 L95.92,429.87 L94.76,430.18Z"/><path d="M95.92,426.96 L97.08,425.82 L97.08,429.51 L95.92,429.87Z"/><path d="M97.08,425.82 L98.24,424.58 L98.24,429.12 L97.08,429.51Z"/><path d="M98.24,424.58 L99.40,423.24 L99.40,428.69 L98.24,429.12Z"/><path d="M99.40,423.24 L100.56,421.82 L100.56,428.23 L99.40,428.69Z"/><path d="M100.56,421.82 L101.72,420.32 L101.72,427.73 L100.56,428.23Z"/><path d="M101.72,420.32 L102.88,418.75 L102.88,427.21 L101.72,427.73Z"/><path d="M102.88,418.75 L104.04,417.12 L104.04,426.65 L102.88,427.21Z"/><path d="M104.04,417.12 L105.20,415.43 L105.20,426.06 L104.04,426.65Z"/><path d="M105.20,415.43 L106.36,413.70 L106.36,425.45 L105.20,426.06Z"/><path d="M106.36,413.70 L107.52,411.93 L107.52,424.81 L106.36,425.45Z"/><path d="M107.52,411.93 L108.68,410.12 L108.68,424.15 L107.52,424.81Z"/><path d="M108.68,410.12 L109.84,408.29 L109.84,423.47 L108.68,424.15Z"/><path d="M109.84,408.29 L111.00,406.42 L111.00,422.77 L109.84,423.47Z"/><path d="M111.00,406.42 L112.16,404.54 L112.16,422.04 L111.00,422.77Z"/><path d="M112.16,404.54 L113.32,402.65 L113.32,421.30 L112.16,422.04Z"/><path d="M113.32,402.65 L114.48,400.74 L114.48,420.54 L113.32,421.30Z"/><path d="M114.48,400.74 L115.64,398.83 L115.64,419.76 L114.48,420.54Z"/><path d="M115.64,398.83 L116.80,396.92 L116.80,418.97 L115.64,419.76Z"/><path d="M116.80,396.92 L117.96,395.01 L117.96,418.16 L116.80,418.97Z"/><path d="M117.96,395.01 L119.12,393.10 L119.12,417.34 L117.96,418.16Z"/><path d="M119.12,393.10 L120.28,391.21 L120.28,416.51 L119.12,417.34Z"/><path d="M120.28,391.21 L121.44,389.32 L121.44,415.66 L120.28,416.51Z"/><path d="M121.44,389.32 L122.60,387.45 L122.60,414.81 L121.44,415.66Z"/><path d="M122.60,387.45 L123.76,385.59 L123.76,413.94 L122.60,414.81Z"/><path d="M123.76,385.59 L124.92,383.75 L124.92,413.06 L123.76,413.94Z"/><path d="M124.92,383.75 L126.08,381.94 L126.08,412.18 L124.92,413.06Z"/><path d="M126.08,381.94 L127.24,380.14 L127.24,411.29 L126.08,412.18Z"/><path d="M127.24,380.14 L128.40,378.37 L128.40,410.39 L127.24,411.29Z"/><path d="M128.40,378.37 L129.56,376.63 L129.56,409.49 L128.40,410.39Z"/><path d="M129.56,376.63 L130.72,374.91 L130.72,408.58 L129.56,409.49Z"/><path d="M130.72,374.91 L131.88,373.23 L131.88,407.67 L130.72,408.58Z"/><path d="M131.88,373.23 L133.04,371.57 L133.04,406.75 L131.88,407.67Z"/><path d="M133.04,371.57 L134.20,369.95 L134.20,405.82 L133.04,406.75Z"/><path d="M134.20,369.95 L135.36,368.36 L135.36,404.90 L134.20,405.82Z"/><path d="M135.36,368.36 L136.52,366.80 L136.52,403.97 L135.36,404.90Z"/><path d="M136.52,366.80 L137.68,365.27 L137.68,403.04 L136.52,403.97Z"/><path d="M137.68,365.27 L138.84,363.78 L138.84,402.11 L137.68,403.04Z"/><path d="M138.84,363.78 L140.00,362.33 L140.00,401.18 L138.84,402.11Z"/><path d="M140.00,362.33 L141.16,360.91 L141.16,400.25 L140.00,401.18Z"/><path d="M141.16,360.91 L142.32,359.53 L142.32,399.32 L141.16,400.25Z"/><path d="M142.32,359.53 L143.48,358.19 L143.48,398.38 L142.32,399.32Z"/><path d="M143.48,358.19 L144.64,356.88 L144.64,397.45 L143.48,398.38Z"/><path d="M144.64,356.88 L145.80,355.61 L145.80,396.52 L144.64,397.45Z"/><path d="M145.80,355.61 L146.96,354.38 L146.96,395.60 L145.80,396.52Z"/><path d="M146.96,354.38 L148.12,353.18 L148.12,394.67 L146.96,395.60Z"/><path d="M148.12,353.18 L149.28,352.02 L149.28,393.75 L148.12,394.67Z"/><path d="M149.28,352.02 L150.44,350.90 L150.44,392.83 L149.28,393.75Z"/><path d="M150.44,350.90 L151.60,349.82 L151.60,391.91 L150.44,392.83Z"/><path d="M151.60,349.82 L152.76,348.78 L152.76,391.00 L151.60,391.91Z"/><path d="M152.76,348.78 L153.92,347.77 L153.92,390.09 L152.76,391.00Z"/><path d="M153.92,347.77 L155.08,346.80 L155.08,389.18 L153.92,390.09Z"/><path d="M155.08,346.80 L156.24,345.86 L156.24,388.28 L155.08,389.18Z"/><path d="M156.24,345.86 L157.40,344.97 L157.40,387.38 L156.24,388.28Z"/><path d="M157.40,344.97 L158.56,344.10 L158.56,386.49 L157.40,387.38Z"/><path d="M158.56,344.10 L159.72,343.28 L159.72,385.61 L158.56,386.49Z"/><path d="M159.72,343.28 L160.88,342.48 L160.88,384.72 L159.72,385.61Z"/><path d="M160.88,342.48 L162.04,341.73 L162.04,383.85 L160.88,384.72Z"/><path d="M162.04,341.73 L163.20,341.01 L163.20,382.98 L162.04,383.85Z"/><path d="M163.20,341.01 L164.36,340.32 L164.36,382.12 L163.20,382.98Z"/><path d="M164.36,340.32 L165.52,339.66 L165.52,381.26 L164.36,382.12Z"/><path d="M165.52,339.66 L166.68,339.04 L166.68,380.41 L165.52,381.26Z"/><path d="M166.68,339.04 L167.84,338.45 L167.84,379.56 L166.68,380.41Z"/><path d="M167.84,338.45 L169.00,337.89 L169.00,378.72 L167.84,379.56Z"/><path d="M169.00,337.89 L170.16,337.37 L170.16,377.89 L169.00,378.72Z"/><path d="M170.16,337.37 L171.32,336.87 L171.32,377.07 L170.16,377.89Z"/><path d="M171.32,336.87 L172.48,336.41 L172.48,376.25 L171.32,377.07Z"/><path d="M172.48,336.41 L173.64,335.97 L173.64,375.44 L172.48,376.25Z"/><path d="M173.64,335.97 L174.80,335.56 L174.80,374.64 L173.64,375.44Z"/><path d="M174.80,335.56 L175.96,335.18 L175.96,373.85 L174.80,374.64Z"/><path d="M175.96,335.18 L177.12,334.83 L177.12,373.06 L175.96,373.85Z"/><path d="M177.12,334.83 L178.28,334.51 L178.28,372.28 L177.12,373.06Z"/><path d="M178.28,334.51 L179.44,334.21 L179.44,371.51 L178.28,372.28Z"/><path d="M179.44,334.21 L180.60,333.94 L180.60,370.74 L179.44,371.51Z"/><path d="M180.60,333.94 L181.76,333.69 L181.76,369.99 L180.60,370.74Z"/><path d="M181.76,333.69 L182.92,333.47 L182.92,369.24 L181.76,369.99Z"/><path d="M182.92,333.47 L184.08,333.28 L184.08,368.50 L182.92,369.24Z"/><path d="M184.08,333.28 L185.24,333.10 L185.24,367.77 L184.08,368.50Z"/><path d="M185.24,333.10 L186.40,332.95 L186.40,367.05 L185.24,367.77Z"/><path d="M186.40,332.95 L187.56,332.82 L187.56,366.33 L186.40,367.05Z"/><path d="M187.56,332.82 L188.72,332.72 L188.72,365.63 L187.56,366.33Z"/><path d="M188.72,332.72 L189.88,332.63 L189.88,364.93 L188.72,365.63Z"/><path d="M189.88,332.63 L191.04,332.56 L191.04,364.24 L189.88,364.93Z"/><path d="M191.04,332.56 L192.20,332.52 L192.20,363.56 L191.04,364.24Z"/><path d="M192.20,332.52 L193.36,332.49 L193.36,362.88 L192.20,363.56Z"/><path d="M193.36,332.49 L194.52,332.48 L194.52,362.22 L193.36,362.88Z"/><path d="M194.52,332.48 L195.68,332.49 L195.68,361.56 L194.52,362.22Z"/><path d="M195.68,332.49 L196.84,332.52 L196.84,360.91 L195.68,361.56Z"/><path d="M196.84,332.52 L198.00,332.56 L198.00,360.27 L196.84,360.91Z"/><path d="M198.00,332.56 L199.16,332.62 L199.16,359.64 L198.00,360.27Z"/><path d="M199.16,332.62 L200.32,332.70 L200.32,359.02 L199.16,359.64Z"/><path d="M200.32,332.70 L201.48,332.79 L201.48,358.41 L200.32,359.02Z"/><path d="M201.48,332.79 L202.64,332.90 L202.64,357.80 L201.48,358.41Z"/><path d="M202.64,332.90 L203.80,333.02 L203.80,357.20 L202.64,357.80Z"/><path d="M203.80,333.02 L204.96,333.15 L204.96,356.61 L203.80,357.20Z"/><path d="M204.96,333.15 L206.12,333.29 L206.12,356.03 L204.96,356.61Z"/><path d="M206.12,333.29 L207.28,333.43 L207.28,355.46 L206.12,356.03Z"/><path d="M207.28,333.43 L208.44,333.56 L208.44,354.90 L207.28,355.46Z"/><path d="M208.44,333.56 L209.60,333.68 L209.60,354.34 L208.44,354.90Z"/><path d="M209.60,333.68 L210.76,333.80 L210.76,353.79 L209.60,354.34Z"/><path d="M210.76,333.80 L211.92,333.91 L211.92,353.25 L210.76,353.79Z"/><path d="M211.92,333.91 L213.08,334.01 L213.08,352.72 L211.92,353.25Z"/><path d="M213.08,334.01 L214.24,334.11 L214.24,352.20 L213.08,352.72Z"/><path d="M214.24,334.11 L215.40,334.21 L215.40,351.69 L214.24,352.20Z"/><path d="M215.40,334.21 L216.56,334.30 L216.56,351.18 L215.40,351.69Z"/><path d="M216.56,334.30 L217.72,334.38 L217.72,350.68 L216.56,351.18Z"/><path d="M217.72,334.38 L218.88,334.46 L218.88,350.19 L217.72,350.68Z"/><path d="M218.88,334.46 L220.04,334.53 L220.04,349.71 L218.88,350.19Z"/><path d="M220.04,334.53 L221.20,334.60 L221.20,349.23 L220.04,349.71Z"/><path d="M221.20,334.60 L222.36,334.66 L222.36,348.76 L221.20,349.23Z"/><path d="M222.36,334.66 L223.52,334.72 L223.52,348.30 L222.36,348.76Z"/><path d="M223.52,334.72 L224.68,334.77 L224.68,347.85 L223.52,348.30Z"/><path d="M224.68,334.77 L225.84,334.82 L225.84,347.41 L224.68,347.85Z"/><path d="M225.84,334.82 L227.00,334.87 L227.00,346.97 L225.84,347.41Z"/><path d="M227.00,334.87 L228.16,334.91 L228.16,346.54 L227.00,346.97Z"/><path d="M228.16,334.91 L229.32,334.94 L229.32,346.12 L228.16,346.54Z"/><path d="M229.32,334.94 L230.48,334.98 L230.48,345.70 L229.32,346.12Z"/><path d="M230.48,334.98 L231.64,335.00 L231.64,345.30 L230.48,345.70Z"/><path d="M231.64,335.00 L232.80,335.03 L232.80,344.90 L231.64,345.30Z"/><path d="M232.80,335.03 L233.96,335.05 L233.96,344.50 L232.80,344.90Z"/><path d="M233.96,335.05 L235.12,335.06 L235.12,344.12 L233.96,344.50Z"/><path d="M235.12,335.06 L236.28,335.08 L236.28,343.74 L235.12,344.12Z"/><path d="M236.28,335.08 L237.44,335.08 L237.44,343.37 L236.28,343.74Z"/><path d="M237.44,335.08 L238.60,335.09 L238.60,343.00 L237.44,343.37Z"/><path d="M238.60,335.09 L239.76,335.09 L239.76,342.64 L238.60,343.00Z"/><path d="M239.76,335.09 L240.92,335.09 L240.92,342.29 L239.76,342.64Z"/><path d="M240.92,335.09 L242.08,335.08 L242.08,341.95 L240.92,342.29Z"/><path d="M242.08,335.08 L243.24,335.07 L243.24,342.18 L242.08,341.95Z"/><path d="M243.24,335.07 L244.40,335.06 L244.40,342.52 L243.24,342.18Z"/><path d="M244.40,335.06 L245.56,335.04 L245.56,342.86 L244.40,342.52Z"/><path d="M245.56,335.04 L246.72,335.02 L246.72,343.20 L245.56,342.86Z"/><path d="M246.72,335.02 L247.88,335.00 L247.88,343.53 L246.72,343.20Z"/><path d="M247.88,335.00 L249.04,334.98 L249.04,343.87 L247.88,343.53Z"/><path d="M249.04,334.98 L250.20,334.95 L250.20,344.21 L249.04,343.87Z"/><path d="M250.20,334.95 L251.36,334.92 L251.36,344.55 L250.20,344.21Z"/><path d="M251.36,334.92 L252.52,334.88 L252.52,344.89 L251.36,344.55Z"/><path d="M252.52,334.88 L253.68,334.84 L253.68,345.22 L252.52,344.89Z"/><path d="M253.68,334.84 L254.84,334.81 L254.84,345.55 L253.68,345.22Z"/><path d="M254.84,334.81 L256.00,334.76 L256.00,345.89 L254.84,345.55Z"/><path d="M256.00,334.76 L257.16,334.72 L257.16,346.22 L256.00,345.89Z"/><path d="M257.16,334.72 L258.32,334.67 L258.32,346.55 L257.16,346.22Z"/><path d="M258.32,334.67 L259.48,334.62 L259.48,346.87 L258.32,346.55Z"/><path d="M259.48,334.62 L260.64,334.56 L260.64,347.20 L259.48,346.87Z"/><path d="M260.64,334.56 L261.80,334.51 L261.80,347.52 L260.64,347.20Z"/><path d="M261.80,334.51 L262.96,334.45 L262.96,347.84 L261.80,347.52Z"/><path d="M262.96,334.45 L264.12,334.39 L264.12,348.16 L262.96,347.84Z"/><path d="M264.12,334.39 L265.28,334.32 L265.28,348.47 L264.12,348.16Z"/><path d="M265.28,334.32 L266.44,334.26 L266.44,348.79 L265.28,348.47Z"/><path d="M266.44,334.26 L267.60,334.19 L267.60,349.09 L266.44,348.79Z"/><path d="M267.60,334.19 L268.76,334.12 L268.76,349.40 L267.60,349.09Z"/><path d="M268.76,334.12 L269.92,334.05 L269.92,349.70 L268.76,349.40Z"/><path d="M269.92,334.05 L271.08,333.97 L271.08,350.00 L269.92,349.70Z"/><path d="M271.08,333.97 L272.24,333.89 L272.24,350.30 L271.08,350.00Z"/><path d="M272.24,333.89 L273.40,333.81 L273.40,350.59 L272.24,350.30Z"/><path d="M273.40,333.81 L274.56,333.73 L274.56,350.88 L273.40,350.59Z"/><path d="M274.56,333.73 L275.72,333.65 L275.72,351.17 L274.56,350.88Z"/><path d="M275.72,333.65 L276.88,333.56 L276.88,351.45 L275.72,351.17Z"/><path d="M276.88,333.56 L278.04,333.48 L278.04,351.73 L276.88,351.45Z"/><path d="M278.04,333.48 L279.20,333.39 L279.20,352.00 L278.04,351.73Z"/><path d="M279.20,333.39 L280.36,333.30 L280.36,352.27 L279.20,352.00Z"/><path d="M280.36,333.30 L281.52,333.20 L281.52,352.54 L280.36,352.27Z"/><path d="M281.52,333.20 L282.68,333.10 L282.68,352.80 L281.52,352.54Z"/><path d="M282.68,333.10 L283.84,333.01 L283.84,353.05 L282.68,352.80Z"/><path d="M283.84,333.01 L285.00,332.91 L285.00,353.31 L283.84,353.05Z"/><path d="M285.00,332.91 L286.16,332.81 L286.16,353.56 L285.00,353.31Z"/><path d="M286.16,332.81 L287.32,332.70 L287.32,353.80 L286.16,353.56Z"/><path d="M287.32,332.70 L288.48,332.60 L288.48,354.04 L287.32,353.80Z"/><path d="M288.48,332.60 L289.64,332.49 L289.64,354.28 L288.48,354.04Z"/><path d="M289.64,332.49 L290.80,332.39 L290.80,354.51 L289.64,354.28Z"/><path d="M290.80,332.39 L291.96,332.28 L291.96,354.74 L290.80,354.51Z"/><path d="M291.96,332.28 L293.12,332.16 L293.12,354.96 L291.96,354.74Z"/><path d="M293.12,332.16 L294.28,332.05 L294.28,355.18 L293.12,354.96Z"/><path d="M294.28,332.05 L295.44,331.94 L295.44,355.39 L294.28,355.18Z"/><path d="M295.44,331.94 L296.60,331.82 L296.60,355.60 L295.44,355.39Z"/><path d="M296.60,331.82 L297.76,331.70 L297.76,355.81 L296.60,355.60Z"/><path d="M297.76,331.70 L298.92,331.59 L298.92,356.01 L297.76,355.81Z"/><path d="M298.92,331.59 L300.08,331.48 L300.08,356.20 L298.92,356.01Z"/><path d="M300.08,331.48 L301.24,331.38 L301.24,356.39 L300.08,356.20Z"/><path d="M301.24,331.38 L302.40,331.27 L302.40,356.58 L301.24,356.39Z"/><path d="M302.40,331.27 L303.56,331.17 L303.56,356.76 L302.40,356.58Z"/><path d="M303.56,331.17 L304.72,331.07 L304.72,356.94 L303.56,356.76Z"/><path d="M304.72,331.07 L305.88,330.98 L305.88,357.11 L304.72,356.94Z"/><path d="M305.88,330.98 L307.04,330.88 L307.04,357.28 L305.88,357.11Z"/><path d="M307.04,330.88 L308.20,330.79 L308.20,357.44 L307.04,357.28Z"/><path d="M308.20,330.79 L309.36,330.70 L309.36,357.60 L308.20,357.44Z"/><path d="M309.36,330.70 L310.52,330.62 L310.52,357.75 L309.36,357.60Z"/><path d="M310.52,330.62 L311.68,330.54 L311.68,357.90 L310.52,357.75Z"/><path d="M311.68,330.54 L312.84,330.45 L312.84,358.05 L311.68,357.90Z"/><path d="M312.84,330.45 L314.00,330.37 L314.00,358.19 L312.84,358.05Z"/><path d="M314.00,330.37 L315.16,330.30 L315.16,358.32 L314.00,358.19Z"/><path d="M315.16,330.30 L316.32,330.22 L316.32,358.45 L315.16,358.32Z"/><path d="M316.32,330.22 L317.48,330.15 L317.48,358.58 L316.32,358.45Z"/><path d="M317.48,330.15 L318.64,330.08 L318.64,358.70 L317.48,358.58Z"/><path d="M318.64,330.08 L319.80,330.01 L319.80,358.81 L318.64,358.70Z"/><path d="M319.80,330.01 L320.96,329.94 L320.96,358.92 L319.80,358.81Z"/><path d="M320.96,329.94 L322.12,329.88 L322.12,359.03 L320.96,358.92Z"/><path d="M322.12,329.88 L323.28,329.81 L323.28,359.13 L322.12,359.03Z"/><path d="M323.28,329.81 L324.44,329.75 L324.44,359.23 L323.28,359.13Z"/><path d="M324.44,329.75 L325.60,329.69 L325.60,359.32 L324.44,359.23Z"/><path d="M325.60,329.69 L326.76,329.63 L326.76,359.41 L325.60,359.32Z"/><path d="M326.76,329.63 L327.92,329.58 L327.92,359.50 L326.76,359.41Z"/><path d="M327.92,329.58 L329.08,329.52 L329.08,359.58 L327.92,359.50Z"/><path d="M329.08,329.52 L330.24,329.47 L330.24,359.65 L329.08,359.58Z"/><path d="M330.24,329.47 L331.40,329.42 L331.40,359.72 L330.24,359.65Z"/><path d="M331.40,329.42 L332.56,329.36 L332.56,359.79 L331.40,359.72Z"/><path d="M332.56,329.36 L333.72,329.31 L333.72,359.85 L332.56,359.79Z"/><path d="M333.72,329.31 L334.88,329.27 L334.88,359.91 L333.72,359.85Z"/><path d="M334.88,329.27 L336.04,329.22 L336.04,359.97 L334.88,359.91Z"/><path d="M336.04,329.22 L337.20,329.17 L337.20,360.02 L336.04,359.97Z"/><path d="M337.20,329.17 L338.36,329.13 L338.36,360.06 L337.20,360.02Z"/><path d="M338.36,329.13 L339.52,329.08 L339.52,360.10 L338.36,360.06Z"/><path d="M339.52,329.08 L340.68,329.04 L340.68,360.14 L339.52,360.10Z"/><path d="M340.68,329.04 L341.84,329.00 L341.84,360.17 L340.68,360.14Z"/><path d="M341.84,329.00 L343.00,328.96 L343.00,360.20 L341.84,360.17Z"/><path d="M343.00,328.96 L344.16,328.92 L344.16,360.23 L343.00,360.20Z"/><path d="M344.16,328.92 L345.32,328.88 L345.32,360.25 L344.16,360.23Z"/><path d="M345.32,328.88 L346.48,328.84 L346.48,360.26 L345.32,360.25Z"/><path d="M346.48,328.84 L347.64,328.80 L347.64,360.27 L346.48,360.26Z"/><path d="M347.64,328.80 L348.80,328.77 L348.80,360.28 L347.64,360.27Z"/><path d="M348.80,328.77 L349.96,328.73 L349.96,360.29 L348.80,360.28Z"/><path d="M349.96,328.73 L351.12,328.69 L351.12,360.29 L349.96,360.29Z"/><path d="M351.12,328.69 L352.28,328.66 L352.28,360.29 L351.12,360.29Z"/><path d="M352.28,328.66 L353.44,328.63 L353.44,360.28 L352.28,360.29Z"/><path d="M353.44,328.63 L354.60,328.59 L354.60,360.27 L353.44,360.28Z"/><path d="M354.60,328.59 L355.76,328.56 L355.76,360.25 L354.60,360.27Z"/><path d="M355.76,328.56 L356.92,328.53 L356.92,360.24 L355.76,360.25Z"/><path d="M356.92,328.53 L358.08,328.50 L358.08,360.22 L356.92,360.24Z"/><path d="M358.08,328.50 L359.24,328.46 L359.24,360.19 L358.08,360.22Z"/><path d="M359.24,328.46 L360.40,328.43 L360.40,360.16 L359.24,360.19Z"/><path d="M360.40,328.43 L361.56,328.40 L361.56,360.13 L360.40,360.16Z"/><path d="M361.56,328.40 L362.72,328.37 L362.72,360.09 L361.56,360.13Z"/><path d="M362.72,328.37 L363.88,328.34 L363.88,360.05 L362.72,360.09Z"/><path d="M363.88,328.34 L365.04,328.31 L365.04,360.01 L363.88,360.05Z"/><path d="M365.04,328.31 L366.20,328.28 L366.20,359.96 L365.04,360.01Z"/><path d="M366.20,328.28 L367.36,328.25 L367.36,359.92 L366.20,359.96Z"/><path d="M367.36,328.25 L368.52,328.22 L368.52,359.86 L367.36,359.92Z"/><path d="M368.52,328.22 L369.68,328.19 L369.68,359.81 L368.52,359.86Z"/><path d="M369.68,328.19 L370.84,328.17 L370.84,359.75 L369.68,359.81Z"/><path d="M370.84,328.17 L372.00,328.14 L372.00,359.68 L370.84,359.75Z"/><path d="M372.00,328.14 L373.16,328.11 L373.16,359.62 L372.00,359.68Z"/><path d="M373.16,328.11 L374.32,328.08 L374.32,359.55 L373.16,359.62Z"/><path d="M374.32,328.08 L375.48,328.05 L375.48,359.48 L374.32,359.55Z"/><path d="M375.48,328.05 L376.64,328.02 L376.64,359.40 L375.48,359.48Z"/><path d="M376.64,328.02 L377.80,327.99 L377.80,359.32 L376.64,359.40Z"/><path d="M377.80,327.99 L378.96,327.96 L378.96,359.24 L377.80,359.32Z"/><path d="M378.96,327.96 L380.12,327.94 L380.12,359.16 L378.96,359.24Z"/><path d="M380.12,327.94 L381.28,327.91 L381.28,359.07 L380.12,359.16Z"/><path d="M381.28,327.91 L382.44,327.88 L382.44,358.98 L381.28,359.07Z"/><path d="M382.44,327.88 L383.60,327.85 L383.60,358.89 L382.44,358.98Z"/><path d="M383.60,327.85 L384.76,327.82 L384.76,358.79 L383.60,358.89Z"/><path d="M384.76,327.82 L385.92,327.79 L385.92,358.70 L384.76,358.79Z"/><path d="M385.92,327.79 L387.08,327.76 L387.08,358.59 L385.92,358.70Z"/><path d="M387.08,327.76 L388.24,327.73 L388.24,358.49 L387.08,358.59Z"/><path d="M388.24,327.73 L389.40,327.70 L389.40,358.38 L388.24,358.49Z"/><path d="M389.40,327.70 L390.56,327.67 L390.56,358.28 L389.40,358.38Z"/><path d="M390.56,327.67 L391.72,327.64 L391.72,358.16 L390.56,358.28Z"/><path d="M391.72,327.64 L392.88,327.61 L392.88,358.05 L391.72,358.16Z"/><path d="M392.88,327.61 L394.04,327.58 L394.04,357.93 L392.88,358.05Z"/><path d="M394.04,327.58 L395.20,327.54 L395.20,357.81 L394.04,357.93Z"/><path d="M395.20,327.54 L396.36,327.51 L396.36,357.69 L395.20,357.81Z"/><path d="M396.36,327.51 L397.52,327.48 L397.52,357.57 L396.36,357.69Z"/><path d="M397.52,327.48 L398.68,327.45 L398.68,357.44 L397.52,357.57Z"/><path d="M398.68,327.45 L399.84,327.41 L399.84,357.31 L398.68,357.44Z"/><path d="M399.84,327.41 L401.00,327.38 L401.00,357.18 L399.84,357.31Z"/><path d="M401.00,327.38 L402.16,327.34 L402.16,357.05 L401.00,357.18Z"/><path d="M402.16,327.34 L403.32,327.31 L403.32,356.91 L402.16,357.05Z"/><path d="M403.32,327.31 L404.48,327.27 L404.48,356.78 L403.32,356.91Z"/><path d="M404.48,327.27 L405.64,327.24 L405.64,356.63 L404.48,356.78Z"/><path d="M405.64,327.24 L406.80,327.20 L406.80,356.49 L405.64,356.63Z"/><path d="M406.80,327.20 L407.96,327.16 L407.96,356.35 L406.80,356.49Z"/><path d="M407.96,327.16 L409.12,327.13 L409.12,356.20 L407.96,356.35Z"/><path d="M409.12,327.13 L410.28,327.09 L410.28,356.05 L409.12,356.20Z"/><path d="M410.28,327.09 L411.44,327.05 L411.44,355.90 L410.28,356.05Z"/><path d="M411.44,327.05 L412.60,327.01 L412.60,355.75 L411.44,355.90Z"/><path d="M412.60,327.01 L413.76,326.97 L413.76,355.60 L412.60,355.75Z"/><path d="M413.76,326.97 L414.92,326.93 L414.92,355.44 L413.76,355.60Z"/><path d="M414.92,326.93 L416.08,326.89 L416.08,355.28 L414.92,355.44Z"/><path d="M416.08,326.89 L417.24,326.85 L417.24,355.12 L416.08,355.28Z"/><path d="M417.24,326.85 L418.40,326.80 L418.40,354.96 L417.24,355.12Z"/><path d="M418.40,326.80 L419.56,326.76 L419.56,354.79 L418.40,354.96Z"/><path d="M419.56,326.76 L420.72,326.72 L420.72,354.63 L419.56,354.79Z"/><path d="M420.72,326.72 L421.88,326.67 L421.88,354.46 L420.72,354.63Z"/><path d="M421.88,326.67 L423.04,326.63 L423.04,354.29 L421.88,354.46Z"/><path d="M423.04,326.63 L424.20,326.58 L424.20,354.12 L423.04,354.29Z"/><path d="M424.20,326.58 L425.36,326.53 L425.36,353.95 L424.20,354.12Z"/><path d="M425.36,326.53 L426.52,326.49 L426.52,353.77 L425.36,353.95Z"/><path d="M426.52,326.49 L427.68,326.44 L427.68,353.60 L426.52,353.77Z"/><path d="M427.68,326.44 L428.84,326.39 L428.84,353.42 L427.68,353.60Z"/><path d="M428.84,326.39 L430.00,326.34 L430.00,353.24 L428.84,353.42Z"/><path d="M430.00,326.34 L431.16,326.29 L431.16,353.06 L430.00,353.24Z"/><path d="M431.16,326.29 L432.32,326.24 L432.32,352.88 L431.16,353.06Z"/><path d="M432.32,326.24 L433.48,326.19 L433.48,352.69 L432.32,352.88Z"/><path d="M433.48,326.19 L434.64,326.13 L434.64,352.51 L433.48,352.69Z"/><path d="M434.64,326.13 L435.80,326.08 L435.80,352.32 L434.64,352.51Z"/><path d="M435.80,326.08 L436.96,326.03 L436.96,352.13 L435.80,352.32Z"/><path d="M436.96,326.03 L438.12,325.97 L438.12,351.94 L436.96,352.13Z"/><path d="M438.12,325.97 L439.28,325.91 L439.28,351.75 L438.12,351.94Z"/><path d="M439.28,325.91 L440.44,325.86 L440.44,351.56 L439.28,351.75Z"/><path d="M440.44,325.86 L441.60,325.80 L441.60,351.37 L440.44,351.56Z"/><path d="M441.60,325.80 L442.76,325.74 L442.76,351.17 L441.60,351.37Z"/><path d="M442.76,325.74 L443.92,325.68 L443.92,350.97 L442.76,351.17Z"/><path d="M443.92,325.68 L445.08,325.62 L445.08,350.78 L443.92,350.97Z"/><path d="M445.08,325.62 L446.24,325.56 L446.24,350.58 L445.08,350.78Z"/><path d="M446.24,325.56 L447.40,325.50 L447.40,350.38 L446.24,350.58Z"/><path d="M447.40,325.50 L448.56,325.44 L448.56,350.18 L447.40,350.38Z"/><path d="M448.56,325.44 L449.72,325.37 L449.72,349.97 L448.56,350.18Z"/><path d="M449.72,325.37 L450.88,325.31 L450.88,349.77 L449.72,349.97Z"/><path d="M450.88,325.31 L452.04,325.24 L452.04,349.57 L450.88,349.77Z"/><path d="M452.04,325.24 L453.20,325.18 L453.20,349.36 L452.04,349.57Z"/><path d="M453.20,325.18 L454.36,325.11 L454.36,349.15 L453.20,349.36Z"/><path d="M454.36,325.11 L455.52,325.04 L455.52,348.94 L454.36,349.15Z"/><path d="M455.52,325.04 L456.68,324.97 L456.68,348.74 L455.52,348.94Z"/><path d="M456.68,324.97 L457.84,324.90 L457.84,348.53 L456.68,348.74Z"/><path d="M457.84,324.90 L459.00,324.83 L459.00,348.31 L457.84,348.53Z"/><path d="M459.00,324.83 L460.16,324.76 L460.16,348.10 L459.00,348.31Z"/><path d="M460.16,324.76 L461.32,324.69 L461.32,347.89 L460.16,348.10Z"/><path d="M461.32,324.69 L462.48,324.61 L462.48,347.68 L461.32,347.89Z"/><path d="M462.48,324.61 L463.64,324.54 L463.64,347.46 L462.48,347.68Z"/><path d="M463.64,324.54 L464.80,324.47 L464.80,347.24 L463.64,347.46Z"/><path d="M464.80,324.47 L465.96,324.39 L465.96,347.03 L464.80,347.24Z"/><path d="M465.96,324.39 L467.12,324.31 L467.12,346.81 L465.96,347.03Z"/><path d="M467.12,324.31 L468.28,324.23 L468.28,346.59 L467.12,346.81Z"/><path d="M468.28,324.23 L469.44,324.16 L469.44,346.37 L468.28,346.59Z"/><path d="M469.44,324.16 L470.60,324.08 L470.60,346.15 L469.44,346.37Z"/><path d="M470.60,324.08 L471.76,324.00 L471.76,345.93 L470.60,346.15Z"/><path d="M471.76,324.00 L472.92,323.91 L472.92,345.71 L471.76,345.93Z"/><path d="M472.92,323.91 L474.08,323.83 L474.08,345.49 L472.92,345.71Z"/><path d="M474.08,323.83 L475.24,323.75 L475.24,345.26 L474.08,345.49Z"/><path d="M475.24,323.75 L476.40,323.66 L476.40,345.04 L475.24,345.26Z"/><path d="M476.40,323.66 L477.56,323.58 L477.56,344.81 L476.40,345.04Z"/><path d="M477.56,323.58 L478.72,323.49 L478.72,344.59 L477.56,344.81Z"/><path d="M478.72,323.49 L479.88,323.41 L479.88,344.36 L478.72,344.59Z"/><path d="M479.88,323.41 L481.04,323.32 L481.04,344.13 L479.88,344.36Z"/><path d="M481.04,323.32 L482.20,323.23 L482.20,343.91 L481.04,344.13Z"/><path d="M482.20,323.23 L483.36,323.14 L483.36,343.68 L482.20,343.91Z"/><path d="M483.36,323.14 L484.52,323.05 L484.52,343.45 L483.36,343.68Z"/><path d="M484.52,323.05 L485.68,322.96 L485.68,343.22 L484.52,343.45Z"/><path d="M485.68,322.96 L486.84,322.86 L486.84,342.99 L485.68,343.22Z"/><path d="M486.84,322.86 L488.00,322.77 L488.00,342.76 L486.84,342.99Z"/><path d="M488.00,322.77 L489.16,322.68 L489.16,342.53 L488.00,342.76Z"/><path d="M489.16,322.68 L490.32,322.58 L490.32,342.29 L489.16,342.53Z"/><path d="M490.32,322.58 L491.48,322.48 L491.48,342.06 L490.32,342.29Z"/><path d="M491.48,322.48 L492.64,322.39 L492.64,341.83 L491.48,342.06Z"/><path d="M492.64,322.39 L493.80,322.29 L493.80,341.59 L492.64,341.83Z"/><path d="M493.80,322.29 L494.96,322.19 L494.96,341.36 L493.80,341.59Z"/><path d="M494.96,322.19 L496.12,322.09 L496.12,341.13 L494.96,341.36Z"/><path d="M496.12,322.09 L497.28,321.99 L497.28,340.89 L496.12,341.13Z"/><path d="M497.28,321.99 L498.44,321.89 L498.44,340.65 L497.28,340.89Z"/><path d="M498.44,321.89 L499.60,321.79 L499.60,340.42 L498.44,340.65Z"/><path d="M499.60,321.79 L500.76,321.68 L500.76,340.18 L499.60,340.42Z"/><path d="M500.76,321.68 L501.92,321.58 L501.92,339.94 L500.76,340.18Z"/><path d="M501.92,321.58 L503.08,321.47 L503.08,339.71 L501.92,339.94Z"/><path d="M503.08,321.47 L504.24,321.37 L504.24,339.47 L503.08,339.71Z"/><path d="M504.24,321.37 L505.40,321.26 L505.40,339.23 L504.24,339.47Z"/><path d="M505.40,321.26 L506.56,321.15 L506.56,338.99 L505.40,339.23Z"/><path d="M506.56,321.15 L507.72,321.04 L507.72,338.75 L506.56,338.99Z"/><path d="M507.72,321.04 L508.88,320.94 L508.88,338.51 L507.72,338.75Z"/><path d="M508.88,320.94 L510.04,320.82 L510.04,338.27 L508.88,338.51Z"/><path d="M510.04,320.82 L511.20,320.71 L511.20,338.03 L510.04,338.27Z"/><path d="M511.20,320.71 L512.36,320.60 L512.36,337.79 L511.20,338.03Z"/><path d="M512.36,320.60 L513.52,320.49 L513.52,337.55 L512.36,337.79Z"/><path d="M513.52,320.49 L514.68,320.37 L514.68,337.31 L513.52,337.55Z"/><path d="M514.68,320.37 L515.84,320.26 L515.84,337.07 L514.68,337.31Z"/><path d="M515.84,320.26 L517.00,320.14 L517.00,336.82 L515.84,337.07Z"/><path d="M517.00,320.14 L518.16,320.03 L518.16,336.58 L517.00,336.82Z"/><path d="M518.16,320.03 L519.32,319.91 L519.32,336.34 L518.16,336.58Z"/><path d="M519.32,319.91 L520.48,319.79 L520.48,336.09 L519.32,336.34Z"/><path d="M520.48,319.79 L521.64,319.67 L521.64,335.85 L520.48,336.09Z"/><path d="M521.64,319.67 L522.80,319.55 L522.80,335.61 L521.64,335.85Z"/><path d="M522.80,319.55 L523.96,319.43 L523.96,335.36 L522.80,335.61Z"/><path d="M523.96,319.43 L525.12,319.31 L525.12,335.12 L523.96,335.36Z"/><path d="M525.12,319.31 L526.28,319.19 L526.28,334.87 L525.12,335.12Z"/><path d="M526.28,319.19 L527.44,319.07 L527.44,334.63 L526.28,334.87Z"/><path d="M527.44,319.07 L528.60,318.94 L528.60,334.38 L527.44,334.63Z"/><path d="M528.60,318.94 L529.76,318.82 L529.76,334.14 L528.60,334.38Z"/><path d="M529.76,318.82 L530.92,318.69 L530.92,333.89 L529.76,334.14Z"/><path d="M530.92,318.69 L532.08,318.57 L532.08,333.65 L530.92,333.89Z"/><path d="M532.08,318.57 L533.24,318.44 L533.24,333.40 L532.08,333.65Z"/><path d="M533.24,318.44 L534.40,318.31 L534.40,333.16 L533.24,333.40Z"/><path d="M534.40,318.31 L535.56,318.18 L535.56,332.91 L534.40,333.16Z"/><path d="M535.56,318.18 L536.72,318.05 L536.72,332.66 L535.56,332.91Z"/><path d="M536.72,318.05 L537.88,317.92 L537.88,332.42 L536.72,332.66Z"/><path d="M537.88,317.92 L539.04,317.79 L539.04,332.17 L537.88,332.42Z"/><path d="M539.04,317.79 L540.20,317.66 L540.20,331.92 L539.04,332.17Z"/><path d="M540.20,317.66 L541.36,317.53 L541.36,331.68 L540.20,331.92Z"/><path d="M541.36,317.53 L542.52,317.39 L542.52,331.43 L541.36,331.68Z"/><path d="M542.52,317.39 L543.68,317.26 L543.68,331.18 L542.52,331.43Z"/><path d="M543.68,317.26 L544.84,317.12 L544.84,330.93 L543.68,331.18Z"/><path d="M544.84,317.12 L546.00,316.99 L546.00,330.69 L544.84,330.93Z"/><path d="M546.00,316.99 L547.16,316.85 L547.16,330.44 L546.00,330.69Z"/><path d="M547.16,316.85 L548.32,316.71 L548.32,330.19 L547.16,330.44Z"/><path d="M548.32,316.71 L549.48,316.57 L549.48,329.94 L548.32,330.19Z"/><path d="M549.48,316.57 L550.64,316.44 L550.64,329.69 L549.48,329.94Z"/><path d="M550.64,316.44 L551.80,316.30 L551.80,329.45 L550.64,329.69Z"/><path d="M551.80,316.30 L552.96,316.16 L552.96,329.20 L551.80,329.45Z"/><path d="M552.96,316.16 L554.12,316.01 L554.12,328.95 L552.96,329.20Z"/><path d="M554.12,316.01 L555.28,315.87 L555.28,328.70 L554.12,328.95Z"/><path d="M555.28,315.87 L556.44,315.73 L556.44,328.45 L555.28,328.70Z"/><path d="M556.44,315.73 L557.60,315.59 L557.60,328.20 L556.44,328.45Z"/><path d="M557.60,315.59 L558.76,315.44 L558.76,327.95 L557.60,328.20Z"/><path d="M558.76,315.44 L559.92,315.30 L559.92,327.70 L558.76,327.95Z"/><path d="M559.92,315.30 L561.08,315.15 L561.08,327.46 L559.92,327.70Z"/><path d="M561.08,315.15 L562.24,315.01 L562.24,327.21 L561.08,327.46Z"/><path d="M562.24,315.01 L563.40,314.86 L563.40,326.96 L562.24,327.21Z"/><path d="M563.40,314.86 L564.56,314.71 L564.56,326.71 L563.40,326.96Z"/><path d="M564.56,314.71 L565.72,314.56 L565.72,326.46 L564.56,326.71Z"/><path d="M565.72,314.56 L566.88,314.42 L566.88,326.21 L565.72,326.46Z"/><path d="M566.88,314.42 L568.04,314.27 L568.04,325.96 L566.88,326.21Z"/><path d="M568.04,314.27 L569.20,314.12 L569.20,325.71 L568.04,325.96Z"/><path d="M569.20,314.12 L570.36,313.97 L570.36,325.46 L569.20,325.71Z"/><path d="M570.36,313.97 L571.52,313.81 L571.52,325.21 L570.36,325.46Z"/><path d="M571.52,313.81 L572.68,313.66 L572.68,324.96 L571.52,325.21Z"/><path d="M572.68,313.66 L573.84,313.51 L573.84,324.71 L572.68,324.96Z"/><path d="M573.84,313.51 L575.00,313.36 L575.00,324.46 L573.84,324.71Z"/><path d="M575.00,313.36 L576.16,313.20 L576.16,324.21 L575.00,324.46Z"/><path d="M576.16,313.20 L577.32,313.05 L577.32,323.96 L576.16,324.21Z"/><path d="M577.32,313.05 L578.48,312.89 L578.48,323.71 L577.32,323.96Z"/><path d="M578.48,312.89 L579.64,312.74 L579.64,323.47 L578.48,323.71Z"/><path d="M579.64,312.74 L580.80,312.58 L580.80,323.22 L579.64,323.47Z"/><path d="M580.80,312.58 L581.96,312.42 L581.96,322.97 L580.80,323.22Z"/><path d="M581.96,312.42 L583.12,312.26 L583.12,322.72 L581.96,322.97Z"/><path d="M583.12,312.26 L584.28,312.10 L584.28,322.47 L583.12,322.72Z"/><path d="M584.28,312.10 L585.44,311.95 L585.44,322.22 L584.28,322.47Z"/><path d="M585.44,311.95 L586.60,311.79 L586.60,321.97 L585.44,322.22Z"/><path d="M586.60,311.79 L587.76,311.63 L587.76,321.72 L586.60,321.97Z"/><path d="M587.76,311.63 L588.92,311.46 L588.92,321.47 L587.76,321.72Z"/><path d="M588.92,311.46 L590.08,311.30 L590.08,321.22 L588.92,321.47Z"/><path d="M590.08,311.30 L591.24,311.14 L591.24,320.97 L590.08,321.22Z"/><path d="M591.24,311.14 L592.40,310.98 L592.40,320.72 L591.24,320.97Z"/><path d="M592.40,310.98 L593.56,310.82 L593.56,320.47 L592.40,320.72Z"/><path d="M593.56,310.82 L594.72,310.65 L594.72,320.22 L593.56,320.47Z"/><path d="M594.72,310.65 L595.88,310.49 L595.88,319.97 L594.72,320.22Z"/><path d="M595.88,310.49 L597.04,310.32 L597.04,319.72 L595.88,319.97Z"/><path d="M597.04,310.32 L598.20,310.16 L598.20,319.48 L597.04,319.72Z"/><path d="M598.20,310.16 L599.36,309.99 L599.36,319.23 L598.20,319.48Z"/><path d="M599.36,309.99 L600.52,309.82 L600.52,318.98 L599.36,319.23Z"/><path d="M600.52,309.82 L601.68,309.66 L601.68,318.73 L600.52,318.98Z"/><path d="M601.68,309.66 L602.84,309.49 L602.84,318.48 L601.68,318.73Z"/><path d="M602.84,309.49 L604.00,309.32 L604.00,318.23 L602.84,318.48Z"/><path d="M604.00,309.32 L605.16,309.15 L605.16,317.98 L604.00,318.23Z"/><path d="M605.16,309.15 L606.32,308.98 L606.32,317.73 L605.16,317.98Z"/><path d="M606.32,308.98 L607.48,308.81 L607.48,317.48 L606.32,317.73Z"/><path d="M607.48,308.81 L608.64,308.64 L608.64,317.24 L607.48,317.48Z"/><path d="M608.64,308.64 L609.80,308.47 L609.80,316.99 L608.64,317.24Z"/><path d="M609.80,308.47 L610.96,308.30 L610.96,316.74 L609.80,316.99Z"/><path d="M610.96,308.30 L612.12,308.13 L612.12,316.49 L610.96,316.74Z"/><path d="M612.12,308.13 L613.28,307.96 L613.28,316.24 L612.12,316.49Z"/><path d="M613.28,307.96 L614.44,307.78 L614.44,315.99 L613.28,316.24Z"/><path d="M614.44,307.78 L615.60,307.61 L615.60,315.75 L614.44,315.99Z"/><path d="M615.60,307.61 L616.76,307.44 L616.76,315.50 L615.60,315.75Z"/><path d="M616.76,307.44 L617.92,307.26 L617.92,315.25 L616.76,315.50Z"/><path d="M617.92,307.26 L619.08,307.09 L619.08,315.00 L617.92,315.25Z"/><path d="M619.08,307.09 L620.24,306.91 L620.24,314.76 L619.08,315.00Z"/><path d="M620.24,306.91 L621.40,306.74 L621.40,314.51 L620.24,314.76Z"/><path d="M621.40,306.74 L622.56,306.56 L622.56,314.26 L621.40,314.51Z"/><path d="M622.56,306.56 L623.72,306.38 L623.72,314.01 L622.56,314.26Z"/><path d="M623.72,306.38 L624.88,306.21 L624.88,313.77 L623.72,314.01Z"/><path d="M624.88,306.21 L626.04,306.03 L626.04,313.52 L624.88,313.77Z"/><path d="M626.04,306.03 L627.20,305.85 L627.20,313.27 L626.04,313.52Z"/><path d="M627.20,305.85 L628.36,305.67 L628.36,313.02 L627.20,313.27Z"/><path d="M628.36,305.67 L629.52,305.49 L629.52,312.78 L628.36,313.02Z"/><path d="M629.52,305.49 L630.68,305.31 L630.68,312.53 L629.52,312.78Z"/><path d="M630.68,305.31 L631.84,305.13 L631.84,312.28 L630.68,312.53Z"/><path d="M631.84,305.13 L633.00,304.95 L633.00,312.04 L631.84,312.28Z"/><path d="M633.00,304.95 L634.16,304.77 L634.16,311.79 L633.00,312.04Z"/><path d="M634.16,304.77 L635.32,304.59 L635.32,311.54 L634.16,311.79Z"/><path d="M635.32,304.59 L636.48,304.41 L636.48,311.30 L635.32,311.54Z"/><path d="M636.48,304.41 L637.64,304.23 L637.64,311.05 L636.48,311.30Z"/><path d="M637.64,304.23 L638.80,304.05 L638.80,310.81 L637.64,311.05Z"/><path d="M638.80,304.05 L639.96,303.86 L639.96,310.56 L638.80,310.81Z"/><path d="M639.96,303.86 L641.12,303.68 L641.12,310.31 L639.96,310.56Z"/><path d="M641.12,303.68 L642.28,303.50 L642.28,310.07 L641.12,310.31Z"/><path d="M642.28,303.50 L643.44,303.31 L643.44,309.82 L642.28,310.07Z"/><path d="M643.44,303.31 L644.60,303.13 L644.60,309.58 L643.44,309.82Z"/><path d="M644.60,303.13 L645.76,302.95 L645.76,309.33 L644.60,309.58Z"/><path d="M645.76,302.95 L646.92,302.76 L646.92,309.09 L645.76,309.33Z"/><path d="M646.92,302.76 L648.08,302.57 L648.08,308.84 L646.92,309.09Z"/><path d="M648.08,302.57 L649.24,302.39 L649.24,308.60 L648.08,308.84Z"/><path d="M649.24,302.39 L650.40,302.20 L650.40,308.35 L649.24,308.60Z"/><path d="M650.40,302.20 L651.56,302.02 L651.56,308.11 L650.40,308.35Z"/><path d="M651.56,302.02 L652.72,301.83 L652.72,307.86 L651.56,308.11Z"/><path d="M652.72,301.83 L653.88,301.64 L653.88,307.62 L652.72,307.86Z"/><path d="M653.88,301.64 L655.04,301.45 L655.04,307.37 L653.88,307.62Z"/><path d="M655.04,301.45 L656.20,301.27 L656.20,307.13 L655.04,307.37Z"/><path d="M656.20,301.27 L657.36,301.08 L657.36,306.88 L656.20,307.13Z"/><path d="M657.36,301.08 L658.52,300.89 L658.52,306.64 L657.36,306.88Z"/><path d="M658.52,300.89 L659.68,300.70 L659.68,306.40 L658.52,306.64Z"/><path d="M659.68,300.70 L660.84,300.51 L660.84,306.15 L659.68,306.40Z"/><path d="M660.84,300.51 L662.00,300.32 L662.00,305.91 L660.84,306.15Z"/><path d="M662.00,300.32 L663.16,300.13 L663.16,305.67 L662.00,305.91Z"/><path d="M663.16,300.13 L664.32,299.94 L664.32,305.42 L663.16,305.67Z"/><path d="M664.32,299.94 L665.48,299.75 L665.48,305.18 L664.32,305.42Z"/><path d="M665.48,299.75 L666.64,299.56 L666.64,304.94 L665.48,305.18Z"/><path d="M666.64,299.56 L667.80,299.37 L667.80,304.69 L666.64,304.94Z"/></g>
<path d="M87.80,431.10 L88.96,430.88 L90.12,430.22 L91.28,429.17 L92.44,427.73 L93.60,425.94 L94.76,423.82 L95.92,421.39 L97.08,418.67 L98.24,415.68 L99.40,412.43 L100.56,408.96 L101.72,405.27 L102.88,401.39 L104.04,397.32 L105.20,393.09 L106.36,388.70 L107.52,384.18 L108.68,379.54 L109.84,374.78 L111.00,369.92 L112.16,364.98 L113.32,359.96 L114.48,354.88 L115.64,349.74 L116.80,344.56 L117.96,339.34 L119.12,334.09 L120.28,328.82 L121.44,323.54 L122.60,318.26 L123.76,312.97 L124.92,307.70 L126.08,302.44 L127.24,297.20 L128.40,291.99 L129.56,286.82 L130.72,281.67 L131.88,276.58 L133.04,271.52 L134.20,266.52 L135.36,261.57 L136.52,256.68 L137.68,251.85 L138.84,247.08 L140.00,242.38 L141.16,237.75 L142.32,233.20 L143.48,228.71 L144.64,224.31 L145.80,219.98 L146.96,215.73 L148.12,211.57 L149.28,207.49 L150.44,203.49 L151.60,199.58 L152.76,195.75 L153.92,192.01 L155.08,188.37 L156.24,184.81 L157.40,181.33 L158.56,177.95 L159.72,174.66 L160.88,171.46 L162.04,168.35 L163.20,165.33 L164.36,162.40 L165.52,159.56 L166.68,156.81 L167.84,154.15 L169.00,151.58 L170.16,149.10 L171.32,146.70 L172.48,144.40 L173.64,142.18 L174.80,140.05 L175.96,138.00 L177.12,136.04 L178.28,134.16 L179.44,132.37 L180.60,130.66 L181.76,129.03 L182.92,127.48 L184.08,126.01 L185.24,124.62 L186.40,123.31 L187.56,122.07 L188.72,120.91 L189.88,119.83 L191.04,118.81 L192.20,117.87 L193.36,117.00 L194.52,116.21 L195.68,115.48 L196.84,114.81 L198.00,114.22 L199.16,113.69 L200.32,113.22 L201.48,112.82 L202.64,112.48 L203.80,112.20 L204.96,111.98 L206.12,111.82 L207.28,111.71 L208.44,111.66 L209.60,111.67 L210.76,111.73 L211.92,111.84 L213.08,112.00 L214.24,112.22 L215.40,112.48 L216.56,112.79 L217.72,113.14 L218.88,113.54 L220.04,113.99 L221.20,114.48 L222.36,115.01 L223.52,115.58 L224.68,116.19 L225.84,116.84 L227.00,117.53 L228.16,118.25 L229.32,119.01 L230.48,119.80 L231.64,120.63 L232.80,121.49 L233.96,122.38 L235.12,123.30 L236.28,124.26 L237.44,125.24 L238.60,126.24 L239.76,127.28 L240.92,128.34 L242.08,129.42 L243.24,130.53 L244.40,131.66 L245.56,132.82 L246.72,133.99 L247.88,135.19 L249.04,136.40 L250.20,137.64 L251.36,138.89 L252.52,140.16 L253.68,141.44 L254.84,142.74 L256.00,144.06 L257.16,145.39 L258.32,146.73 L259.48,148.09 L260.64,149.46 L261.80,150.84 L262.96,152.23 L264.12,153.63 L265.28,155.04 L266.44,156.46 L267.60,157.89 L268.76,159.33 L269.92,160.77 L271.08,162.22 L272.24,163.67 L273.40,165.13 L274.56,166.60 L275.72,168.07 L276.88,169.54 L278.04,171.01 L279.20,172.49 L280.36,173.97 L281.52,175.46 L282.68,176.94 L283.84,178.43 L285.00,179.91 L286.16,181.40 L287.32,182.89 L288.48,184.37 L289.64,185.85 L290.80,187.34 L291.96,188.82 L293.12,190.29 L294.28,191.77 L295.44,193.24 L296.60,194.71 L297.76,196.18 L298.92,197.64 L300.08,199.10 L301.24,200.55 L302.40,202.00 L303.56,203.44 L304.72,204.88 L305.88,206.32 L307.04,207.74 L308.20,209.16 L309.36,210.58 L310.52,211.99 L311.68,213.39 L312.84,214.78 L314.00,216.17 L315.16,217.55 L316.32,218.92 L317.48,220.28 L318.64,221.64 L319.80,222.99 L320.96,224.33 L322.12,225.66 L323.28,226.99 L324.44,228.30 L325.60,229.61 L326.76,230.90 L327.92,232.19 L329.08,233.47 L330.24,234.74 L331.40,236.00 L332.56,237.25 L333.72,238.49 L334.88,239.72 L336.04,240.94 L337.20,242.15 L338.36,243.36 L339.52,244.55 L340.68,245.73 L341.84,246.90 L343.00,248.06 L344.16,249.21 L345.32,250.35 L346.48,251.48 L347.64,252.60 L348.80,253.71 L349.96,254.81 L351.12,255.90 L352.28,256.97 L353.44,258.04 L354.60,259.10 L355.76,260.14 L356.92,261.18 L358.08,262.20 L359.24,263.21 L360.40,264.22 L361.56,265.21 L362.72,266.19 L363.88,267.16 L365.04,268.12 L366.20,269.07 L367.36,270.01 L368.52,270.94 L369.68,271.86 L370.84,272.76 L372.00,273.66 L373.16,274.54 L374.32,275.42 L375.48,276.28 L376.64,277.14 L377.80,277.98 L378.96,278.82 L380.12,279.64 L381.28,280.45 L382.44,281.25 L383.60,282.05 L384.76,282.83 L385.92,283.60 L387.08,284.36 L388.24,285.11 L389.40,285.85" fill="none" stroke="#f60a20" stroke-width="2.7" stroke-dasharray="4 2.3 1.4 2.3"/>
<path d="M389.40,285.85 L390.56,286.58 L391.72,287.30 L392.88,288.01 L394.04,288.72 L395.20,289.41 L396.36,290.09 L397.52,290.76 L398.68,291.42 L399.84,292.08 L401.00,292.72 L402.16,293.35 L403.32,293.98 L404.48,294.59 L405.64,295.20 L406.80,295.79 L407.96,296.38 L409.12,296.96 L410.28,297.52 L411.44,298.08 L412.60,298.63 L413.76,299.18 L414.92,299.71 L416.08,300.23 L417.24,300.75 L418.40,301.25 L419.56,301.75 L420.72,302.24 L421.88,302.72 L423.04,303.20 L424.20,303.66 L425.36,304.12 L426.52,304.56 L427.68,305.00 L428.84,305.43 L430.00,305.86 L431.16,306.27 L432.32,306.68 L433.48,307.08 L434.64,307.47 L435.80,307.86 L436.96,308.24 L438.12,308.61 L439.28,308.97 L440.44,309.32 L441.60,309.67 L442.76,310.01 L443.92,310.34 L445.08,310.67 L446.24,310.99 L447.40,311.30 L448.56,311.61 L449.72,311.90 L450.88,312.20 L452.04,312.48 L453.20,312.76 L454.36,313.03 L455.52,313.30 L456.68,313.55 L457.84,313.81 L459.00,314.05 L460.16,314.29 L461.32,314.52 L462.48,314.75 L463.64,314.97 L464.80,315.19 L465.96,315.40 L467.12,315.60 L468.28,315.80 L469.44,315.99 L470.60,316.17 L471.76,316.36 L472.92,316.53 L474.08,316.70 L475.24,316.86 L476.40,317.02 L477.56,317.17 L478.72,317.32 L479.88,317.46 L481.04,317.60 L482.20,317.73 L483.36,317.86 L484.52,317.98 L485.68,318.10 L486.84,318.21 L488.00,318.32 L489.16,318.42 L490.32,318.52 L491.48,318.62 L492.64,318.71 L493.80,318.79 L494.96,318.87 L496.12,318.94 L497.28,319.02 L498.44,319.08 L499.60,319.14 L500.76,319.20 L501.92,319.26 L503.08,319.31 L504.24,319.35 L505.40,319.39 L506.56,319.43 L507.72,319.47 L508.88,319.50 L510.04,319.52 L511.20,319.55 L512.36,319.56 L513.52,319.58 L514.68,319.59 L515.84,319.60 L517.00,319.60 L518.16,319.60 L519.32,319.60 L520.48,319.59 L521.64,319.58 L522.80,319.57 L523.96,319.55 L525.12,319.54 L526.28,319.51 L527.44,319.49 L528.60,319.46 L529.76,319.43 L530.92,319.39 L532.08,319.35 L533.24,319.31 L534.40,319.27 L535.56,319.22 L536.72,319.17 L537.88,319.12 L539.04,319.06 L540.20,319.00 L541.36,318.94 L542.52,318.88 L543.68,318.81 L544.84,318.75 L546.00,318.67 L547.16,318.60 L548.32,318.52 L549.48,318.45 L550.64,318.36 L551.80,318.28 L552.96,318.20 L554.12,318.11 L555.28,318.02 L556.44,317.92 L557.60,317.83 L558.76,317.73 L559.92,317.63 L561.08,317.53 L562.24,317.43 L563.40,317.32 L564.56,317.22 L565.72,317.11 L566.88,316.99 L568.04,316.88 L569.20,316.77 L570.36,316.65 L571.52,316.53 L572.68,316.41 L573.84,316.29 L575.00,316.16 L576.16,316.03 L577.32,315.91 L578.48,315.78 L579.64,315.65 L580.80,315.51 L581.96,315.38 L583.12,315.24 L584.28,315.10 L585.44,314.96 L586.60,314.82 L587.76,314.68 L588.92,314.54 L590.08,314.39 L591.24,314.24 L592.40,314.10 L593.56,313.95 L594.72,313.79 L595.88,313.64 L597.04,313.49 L598.20,313.33 L599.36,313.18 L600.52,313.02 L601.68,312.86 L602.84,312.70 L604.00,312.54 L605.16,312.38 L606.32,312.21 L607.48,312.05 L608.64,311.88 L609.80,311.71 L610.96,311.55 L612.12,311.38 L613.28,311.21 L614.44,311.03 L615.60,310.86 L616.76,310.69 L617.92,310.51 L619.08,310.34 L620.24,310.16 L621.40,309.98 L622.56,309.81 L623.72,309.63 L624.88,309.45 L626.04,309.27 L627.20,309.08 L628.36,308.90 L629.52,308.72 L630.68,308.53 L631.84,308.35 L633.00,308.16 L634.16,307.97 L635.32,307.79 L636.48,307.60 L637.64,307.41 L638.80,307.22 L639.96,307.03 L641.12,306.84 L642.28,306.65 L643.44,306.45 L644.60,306.26 L645.76,306.07 L646.92,305.87 L648.08,305.68 L649.24,305.48 L650.40,305.28 L651.56,305.09 L652.72,304.89 L653.88,304.69 L655.04,304.49 L656.20,304.29 L657.36,304.09 L658.52,303.89 L659.68,303.69 L660.84,303.49 L662.00,303.29 L663.16,303.09 L664.32,302.88 L665.48,302.68 L666.64,302.48 L667.80,302.27" fill="none" stroke="#f60a20" stroke-width="2.7" stroke-dasharray="5.8 2.5 1.2 2.5"/>
<path d="M87.80,431.10 L88.96,431.04 L90.12,430.86 L91.28,430.58 L92.44,430.19 L93.60,429.71 L94.76,429.14 L95.92,428.48 L97.08,427.75 L98.24,426.94 L99.40,426.07 L100.56,425.13 L101.72,424.13 L102.88,423.08 L104.04,421.98 L105.20,420.84 L106.36,419.65 L107.52,418.43 L108.68,417.17 L109.84,415.88 L111.00,414.56 L112.16,413.22 L113.32,411.86 L114.48,410.48 L115.64,409.08 L116.80,407.67 L117.96,406.25 L119.12,404.82 L120.28,403.38 L121.44,401.94 L122.60,400.49 L123.76,399.04 L124.92,397.59 L126.08,396.15 L127.24,394.71 L128.40,393.27 L129.56,391.84 L130.72,390.42 L131.88,389.01 L133.04,387.60 L134.20,386.21 L135.36,384.83 L136.52,383.47 L137.68,382.11 L138.84,380.78 L140.00,379.45 L141.16,378.15 L142.32,376.86 L143.48,375.59 L144.64,374.34 L145.80,373.10 L146.96,371.89 L148.12,370.69 L149.28,369.51 L150.44,368.36 L151.60,367.22 L152.76,366.11 L153.92,365.01 L155.08,363.94 L156.24,362.89 L157.40,361.86 L158.56,360.85 L159.72,359.86 L160.88,358.90 L162.04,357.95 L163.20,357.03 L164.36,356.13 L165.52,355.26 L166.68,354.40 L167.84,353.57 L169.00,352.75 L170.16,351.96 L171.32,351.19 L172.48,350.44 L173.64,349.72 L174.80,349.01 L175.96,348.32 L177.12,347.66 L178.28,347.01 L179.44,346.39 L180.60,345.78 L181.76,345.20 L182.92,344.63 L184.08,344.09 L185.24,343.56 L186.40,343.05 L187.56,342.56 L188.72,342.09 L189.88,341.64 L191.04,341.21 L192.20,340.79 L193.36,340.39 L194.52,340.01 L195.68,339.64 L196.84,339.29 L198.00,338.96 L199.16,338.64 L200.32,338.34 L201.48,338.05 L202.64,337.78 L203.80,337.52 L204.96,337.28 L206.12,337.05 L207.28,336.83 L208.44,336.63 L209.60,336.44 L210.76,336.27 L211.92,336.11 L213.08,335.96 L214.24,335.82 L215.40,335.69 L216.56,335.58 L217.72,335.47 L218.88,335.38 L220.04,335.30 L221.20,335.23 L222.36,335.17 L223.52,335.11 L224.68,335.07 L225.84,335.04 L227.00,335.02 L228.16,335.00 L229.32,335.00 L230.48,335.00 L231.64,335.01 L232.80,335.03 L233.96,335.05 L235.12,335.08 L236.28,335.12 L237.44,335.17 L238.60,335.22 L239.76,335.28 L240.92,335.35 L242.08,335.42 L243.24,335.50 L244.40,335.58 L245.56,335.67 L246.72,335.76 L247.88,335.86 L249.04,335.96 L250.20,336.07 L251.36,336.18 L252.52,336.30 L253.68,336.42 L254.84,336.54 L256.00,336.67 L257.16,336.80 L258.32,336.93 L259.48,337.06 L260.64,337.20 L261.80,337.34 L262.96,337.49 L264.12,337.63 L265.28,337.78 L266.44,337.93 L267.60,338.08 L268.76,338.24 L269.92,338.39 L271.08,338.55 L272.24,338.71 L273.40,338.86 L274.56,339.02 L275.72,339.19 L276.88,339.35 L278.04,339.51 L279.20,339.67 L280.36,339.84 L281.52,340.00 L282.68,340.16 L283.84,340.33 L285.00,340.49 L286.16,340.65 L287.32,340.82 L288.48,340.98 L289.64,341.14 L290.80,341.30 L291.96,341.47 L293.12,341.63 L294.28,341.79 L295.44,341.95 L296.60,342.10 L297.76,342.26 L298.92,342.42 L300.08,342.57 L301.24,342.73 L302.40,342.88 L303.56,343.03 L304.72,343.18 L305.88,343.33 L307.04,343.47 L308.20,343.62 L309.36,343.76 L310.52,343.90 L311.68,344.04 L312.84,344.18 L314.00,344.31 L315.16,344.45 L316.32,344.58 L317.48,344.71 L318.64,344.84 L319.80,344.96 L320.96,345.09 L322.12,345.21 L323.28,345.33 L324.44,345.45 L325.60,345.56 L326.76,345.67 L327.92,345.78 L329.08,345.89 L330.24,346.00 L331.40,346.10 L332.56,346.20 L333.72,346.30 L334.88,346.39 L336.04,346.49 L337.20,346.58 L338.36,346.67 L339.52,346.75 L340.68,346.83 L341.84,346.91 L343.00,346.99 L344.16,347.07 L345.32,347.14 L346.48,347.21 L347.64,347.28 L348.80,347.34 L349.96,347.40 L351.12,347.46 L352.28,347.52 L353.44,347.57 L354.60,347.63 L355.76,347.67 L356.92,347.72 L358.08,347.76 L359.24,347.80 L360.40,347.84 L361.56,347.88 L362.72,347.91 L363.88,347.94 L365.04,347.97 L366.20,347.99 L367.36,348.01 L368.52,348.03 L369.68,348.05 L370.84,348.07 L372.00,348.08 L373.16,348.09 L374.32,348.09 L375.48,348.10 L376.64,348.10 L377.80,348.09 L378.96,348.09 L380.12,348.08 L381.28,348.07 L382.44,348.06 L383.60,348.05 L384.76,348.03 L385.92,348.01 L387.08,347.99 L388.24,347.97 L389.40,347.94 L390.56,347.91 L391.72,347.88 L392.88,347.84 L394.04,347.81 L395.20,347.77 L396.36,347.73 L397.52,347.68 L398.68,347.64 L399.84,347.59 L401.00,347.54 L402.16,347.48 L403.32,347.43 L404.48,347.37 L405.64,347.31 L406.80,347.25 L407.96,347.18 L409.12,347.12 L410.28,347.05 L411.44,346.97 L412.60,346.90 L413.76,346.83 L414.92,346.75 L416.08,346.67 L417.24,346.59 L418.40,346.50 L419.56,346.42 L420.72,346.33 L421.88,346.24 L423.04,346.14 L424.20,346.05 L425.36,345.95 L426.52,345.86 L427.68,345.76 L428.84,345.65 L430.00,345.55 L431.16,345.44 L432.32,345.34 L433.48,345.23 L434.64,345.11 L435.80,345.00 L436.96,344.89 L438.12,344.77 L439.28,344.65 L440.44,344.53 L441.60,344.41 L442.76,344.28 L443.92,344.16 L445.08,344.03 L446.24,343.90 L447.40,343.77 L448.56,343.64 L449.72,343.51 L450.88,343.37 L452.04,343.23 L453.20,343.09 L454.36,342.95 L455.52,342.81 L456.68,342.67 L457.84,342.52 L459.00,342.38 L460.16,342.23 L461.32,342.08 L462.48,341.93 L463.64,341.78 L464.80,341.63 L465.96,341.47 L467.12,341.32 L468.28,341.16 L469.44,341.00 L470.60,340.84 L471.76,340.68 L472.92,340.52 L474.08,340.35 L475.24,340.19 L476.40,340.02 L477.56,339.85 L478.72,339.68 L479.88,339.51 L481.04,339.34 L482.20,339.17 L483.36,339.00 L484.52,338.82 L485.68,338.65 L486.84,338.47 L488.00,338.29 L489.16,338.11 L490.32,337.93 L491.48,337.75 L492.64,337.57 L493.80,337.39 L494.96,337.20 L496.12,337.02 L497.28,336.83 L498.44,336.65 L499.60,336.46 L500.76,336.27 L501.92,336.08 L503.08,335.89 L504.24,335.70 L505.40,335.50 L506.56,335.31 L507.72,335.12 L508.88,334.92 L510.04,334.73 L511.20,334.53 L512.36,334.33 L513.52,334.13 L514.68,333.93 L515.84,333.73 L517.00,333.53 L518.16,333.33 L519.32,333.13 L520.48,332.93 L521.64,332.72 L522.80,332.52 L523.96,332.31 L525.12,332.11 L526.28,331.90 L527.44,331.70 L528.60,331.49 L529.76,331.28 L530.92,331.07 L532.08,330.86 L533.24,330.65 L534.40,330.44 L535.56,330.23 L536.72,330.02 L537.88,329.81 L539.04,329.59 L540.20,329.38 L541.36,329.17 L542.52,328.95 L543.68,328.74 L544.84,328.52 L546.00,328.30 L547.16,328.09 L548.32,327.87 L549.48,327.65 L550.64,327.44 L551.80,327.22 L552.96,327.00 L554.12,326.78 L555.28,326.56 L556.44,326.34 L557.60,326.12 L558.76,325.90 L559.92,325.68 L561.08,325.45 L562.24,325.23 L563.40,325.01 L564.56,324.79 L565.72,324.56 L566.88,324.34 L568.04,324.12 L569.20,323.89 L570.36,323.67 L571.52,323.44 L572.68,323.22 L573.84,322.99 L575.00,322.77 L576.16,322.54 L577.32,322.31 L578.48,322.09 L579.64,321.86 L580.80,321.63 L581.96,321.40 L583.12,321.18 L584.28,320.95 L585.44,320.72 L586.60,320.49 L587.76,320.26 L588.92,320.03 L590.08,319.80 L591.24,319.57 L592.40,319.34 L593.56,319.11 L594.72,318.88 L595.88,318.65 L597.04,318.42 L598.20,318.19 L599.36,317.96 L600.52,317.73 L601.68,317.50 L602.84,317.27 L604.00,317.04 L605.16,316.80 L606.32,316.57 L607.48,316.34 L608.64,316.11 L609.80,315.87 L610.96,315.64 L612.12,315.41 L613.28,315.18 L614.44,314.94 L615.60,314.71 L616.76,314.48 L617.92,314.24 L619.08,314.01 L620.24,313.78 L621.40,313.54 L622.56,313.31 L623.72,313.08 L624.88,312.84 L626.04,312.61 L627.20,312.38 L628.36,312.14 L629.52,311.91 L630.68,311.67 L631.84,311.44 L633.00,311.20 L634.16,310.97 L635.32,310.74 L636.48,310.50 L637.64,310.27 L638.80,310.03 L639.96,309.80 L641.12,309.56 L642.28,309.33 L643.44,309.09 L644.60,308.86 L645.76,308.62 L646.92,308.39 L648.08,308.15 L649.24,307.92 L650.40,307.68 L651.56,307.45 L652.72,307.21 L653.88,306.98 L655.04,306.74 L656.20,306.51 L657.36,306.27 L658.52,306.04 L659.68,305.80 L660.84,305.57 L662.00,305.34 L663.16,305.10 L664.32,304.87 L665.48,304.63 L666.64,304.40 L667.80,304.16" fill="none" stroke="#16b65c" stroke-width="2.7" stroke-dasharray="4.4 1.6"/>
<path d="M87.80,431.10 L88.96,431.07 L90.12,430.99 L91.28,430.87 L92.44,430.71 L93.60,430.51 L94.76,430.29 L95.92,430.04 L97.08,429.77 L98.24,429.50 L99.40,429.21 L100.56,428.89 L101.72,428.49 L102.88,428.02 L104.04,427.49 L105.20,426.91 L106.36,426.29 L107.52,425.63 L108.68,424.95 L109.84,424.26 L111.00,423.56 L112.16,422.81 L113.32,422.00 L114.48,421.13 L115.64,420.20 L116.80,419.24 L117.96,418.25 L119.12,417.25 L120.28,416.24 L121.44,415.24 L122.60,414.26 L123.76,413.29 L124.92,412.30 L126.08,411.29 L127.24,410.28 L128.40,409.26 L129.56,408.24 L130.72,407.22 L131.88,406.19 L133.04,405.17 L134.20,404.16 L135.36,403.15 L136.52,402.13 L137.68,401.11 L138.84,400.09 L140.00,399.06 L141.16,398.04 L142.32,397.01 L143.48,395.98 L144.64,394.96 L145.80,393.93 L146.96,392.91 L148.12,391.89 L149.28,390.88 L150.44,389.87 L151.60,388.87 L152.76,387.87 L153.92,386.88 L155.08,385.90 L156.24,384.92 L157.40,383.96 L158.56,382.99 L159.72,382.04 L160.88,381.08 L162.04,380.12 L163.20,379.17 L164.36,378.22 L165.52,377.28 L166.68,376.34 L167.84,375.41 L169.00,374.48 L170.16,373.56 L171.32,372.64 L172.48,371.74 L173.64,370.84 L174.80,369.94 L175.96,369.06 L177.12,368.19 L178.28,367.33 L179.44,366.48 L180.60,365.64 L181.76,364.81 L182.92,363.99 L184.08,363.18 L185.24,362.38 L186.40,361.59 L187.56,360.81 L188.72,360.04 L189.88,359.28 L191.04,358.52 L192.20,357.78 L193.36,357.04 L194.52,356.31 L195.68,355.59 L196.84,354.87 L198.00,354.16 L199.16,353.47 L200.32,352.78 L201.48,352.11 L202.64,351.46 L203.80,350.82 L204.96,350.20 L206.12,349.58 L207.28,348.98 L208.44,348.39 L209.60,347.80 L210.76,347.22 L211.92,346.65 L213.08,346.09 L214.24,345.53 L215.40,344.97 L216.56,344.42 L217.72,343.88 L218.88,343.33 L220.04,342.79 L221.20,342.26 L222.36,341.72 L223.52,341.18 L224.68,340.65 L225.84,340.13 L227.00,339.64 L228.16,339.17 L229.32,338.72 L230.48,338.26 L231.64,337.82 L232.80,337.38 L233.96,336.95 L235.12,336.52 L236.28,336.10 L237.44,335.69 L238.60,335.28 L239.76,334.88 L240.92,334.48 L242.08,334.09 L243.24,333.71 L244.40,333.34 L245.56,332.97 L246.72,332.61 L247.88,332.25 L249.04,331.90 L250.20,331.56 L251.36,331.22 L252.52,330.88 L253.68,330.55 L254.84,330.23 L256.00,329.90 L257.16,329.58 L258.32,329.27 L259.48,328.96 L260.64,328.66 L261.80,328.36 L262.96,328.06 L264.12,327.78 L265.28,327.49 L266.44,327.22 L267.60,326.95 L268.76,326.68 L269.92,326.43 L271.08,326.18 L272.24,325.93 L273.40,325.70 L274.56,325.47 L275.72,325.24 L276.88,325.02 L278.04,324.81 L279.20,324.60 L280.36,324.39 L281.52,324.19 L282.68,323.99 L283.84,323.80 L285.00,323.61 L286.16,323.42 L287.32,323.24 L288.48,323.06 L289.64,322.88 L290.80,322.70 L291.96,322.53 L293.12,322.36 L294.28,322.19 L295.44,322.02 L296.60,321.86 L297.76,321.69 L298.92,321.53 L300.08,321.37 L301.24,321.21 L302.40,321.06 L303.56,320.90 L304.72,320.75 L305.88,320.60 L307.04,320.45 L308.20,320.31 L309.36,320.16 L310.52,320.02 L311.68,319.88 L312.84,319.74 L314.00,319.61 L315.16,319.47 L316.32,319.34 L317.48,319.21 L318.64,319.09 L319.80,318.96 L320.96,318.84 L322.12,318.72 L323.28,318.60 L324.44,318.48 L325.60,318.36 L326.76,318.24 L327.92,318.13 L329.08,318.01 L330.24,317.90 L331.40,317.78 L332.56,317.67 L333.72,317.56 L334.88,317.45 L336.04,317.35 L337.20,317.24 L338.36,317.13 L339.52,317.03 L340.68,316.93 L341.84,316.83 L343.00,316.72 L344.16,316.63 L345.32,316.53 L346.48,316.43 L347.64,316.34 L348.80,316.24 L349.96,316.15 L351.12,316.06 L352.28,315.97 L353.44,315.88 L354.60,315.80 L355.76,315.71 L356.92,315.63 L358.08,315.55 L359.24,315.47 L360.40,315.39 L361.56,315.31 L362.72,315.24 L363.88,315.17 L365.04,315.09 L366.20,315.02 L367.36,314.95 L368.52,314.88 L369.68,314.81 L370.84,314.74 L372.00,314.67 L373.16,314.60 L374.32,314.53 L375.48,314.46 L376.64,314.39 L377.80,314.32 L378.96,314.25 L380.12,314.18 L381.28,314.11 L382.44,314.04 L383.60,313.96 L384.76,313.89 L385.92,313.82 L387.08,313.74 L388.24,313.67 L389.40,313.60 L390.56,313.52 L391.72,313.45 L392.88,313.38 L394.04,313.31 L395.20,313.23 L396.36,313.16 L397.52,313.09 L398.68,313.02 L399.84,312.96 L401.00,312.89 L402.16,312.82 L403.32,312.76 L404.48,312.69 L405.64,312.63 L406.80,312.57 L407.96,312.51 L409.12,312.45 L410.28,312.39 L411.44,312.33 L412.60,312.28 L413.76,312.22 L414.92,312.16 L416.08,312.11 L417.24,312.05 L418.40,312.00 L419.56,311.94 L420.72,311.89 L421.88,311.84 L423.04,311.78 L424.20,311.73 L425.36,311.68 L426.52,311.63 L427.68,311.57 L428.84,311.52 L430.00,311.47 L431.16,311.42 L432.32,311.37 L433.48,311.32 L434.64,311.27 L435.80,311.22 L436.96,311.17 L438.12,311.12 L439.28,311.07 L440.44,311.01 L441.60,310.96 L442.76,310.91 L443.92,310.86 L445.08,310.81 L446.24,310.77 L447.40,310.72 L448.56,310.67 L449.72,310.62 L450.88,310.57 L452.04,310.52 L453.20,310.47 L454.36,310.42 L455.52,310.37 L456.68,310.33 L457.84,310.28 L459.00,310.23 L460.16,310.18 L461.32,310.13 L462.48,310.09 L463.64,310.04 L464.80,309.99 L465.96,309.95 L467.12,309.90 L468.28,309.85 L469.44,309.80 L470.60,309.76 L471.76,309.71 L472.92,309.67 L474.08,309.62 L475.24,309.57 L476.40,309.53 L477.56,309.48 L478.72,309.44 L479.88,309.39 L481.04,309.35 L482.20,309.30 L483.36,309.26 L484.52,309.21 L485.68,309.17 L486.84,309.12 L488.00,309.08 L489.16,309.03 L490.32,308.99 L491.48,308.95 L492.64,308.90 L493.80,308.86 L494.96,308.82 L496.12,308.77 L497.28,308.73 L498.44,308.69 L499.60,308.64 L500.76,308.60 L501.92,308.56 L503.08,308.51 L504.24,308.47 L505.40,308.43 L506.56,308.39 L507.72,308.35 L508.88,308.30 L510.04,308.26 L511.20,308.22 L512.36,308.18 L513.52,308.14 L514.68,308.09 L515.84,308.05 L517.00,308.01 L518.16,307.97 L519.32,307.93 L520.48,307.89 L521.64,307.85 L522.80,307.81 L523.96,307.77 L525.12,307.73 L526.28,307.69 L527.44,307.65 L528.60,307.61 L529.76,307.57 L530.92,307.53 L532.08,307.49 L533.24,307.45 L534.40,307.41 L535.56,307.37 L536.72,307.33 L537.88,307.29 L539.04,307.25 L540.20,307.21 L541.36,307.18 L542.52,307.14 L543.68,307.10 L544.84,307.06 L546.00,307.03 L547.16,306.99 L548.32,306.95 L549.48,306.91 L550.64,306.88 L551.80,306.84 L552.96,306.80 L554.12,306.77 L555.28,306.73 L556.44,306.69 L557.60,306.66 L558.76,306.62 L559.92,306.58 L561.08,306.55 L562.24,306.51 L563.40,306.48 L564.56,306.44 L565.72,306.41 L566.88,306.37 L568.04,306.34 L569.20,306.30 L570.36,306.26 L571.52,306.23 L572.68,306.20 L573.84,306.16 L575.00,306.13 L576.16,306.09 L577.32,306.06 L578.48,306.02 L579.64,305.99 L580.80,305.95 L581.96,305.92 L583.12,305.89 L584.28,305.85 L585.44,305.82 L586.60,305.79 L587.76,305.75 L588.92,305.72 L590.08,305.69 L591.24,305.66 L592.40,305.62 L593.56,305.59 L594.72,305.56 L595.88,305.53 L597.04,305.50 L598.20,305.46 L599.36,305.43 L600.52,305.40 L601.68,305.37 L602.84,305.34 L604.00,305.31 L605.16,305.28 L606.32,305.25 L607.48,305.22 L608.64,305.19 L609.80,305.16 L610.96,305.13 L612.12,305.10 L613.28,305.07 L614.44,305.04 L615.60,305.01 L616.76,304.98 L617.92,304.95 L619.08,304.92 L620.24,304.89 L621.40,304.86 L622.56,304.83 L623.72,304.80 L624.88,304.78 L626.04,304.75 L627.20,304.72 L628.36,304.69 L629.52,304.66 L630.68,304.63 L631.84,304.61 L633.00,304.58 L634.16,304.55 L635.32,304.52 L636.48,304.50 L637.64,304.47 L638.80,304.44 L639.96,304.42 L641.12,304.39 L642.28,304.36 L643.44,304.34 L644.60,304.31 L645.76,304.28 L646.92,304.26 L648.08,304.23 L649.24,304.20 L650.40,304.18 L651.56,304.15 L652.72,304.13 L653.88,304.10 L655.04,304.08 L656.20,304.05 L657.36,304.03 L658.52,304.00 L659.68,303.98 L660.84,303.95 L662.00,303.93 L663.16,303.90 L664.32,303.88 L665.48,303.86 L666.64,303.83 L667.80,303.81" fill="none" stroke="#000" stroke-width="2.6"/>
</g>
<rect x="87.80" y="27.00" width="580.00" height="404.10" fill="none" stroke="#000" stroke-width="1.6"/>
<g font-family="Liberation Sans, sans-serif" font-size="20" fill="#000"><text transform="translate(90.40,459.60) scale(1.0450,1.1300)" text-anchor="middle">0</text><text transform="translate(206.40,459.60) scale(1.0450,1.1300)" text-anchor="middle">0.5</text><path transform="translate(316.59,459.60) scale(0.02090,0.02226)" d="M373,0 H285 V-505 H102 V-568 C218,-572 290,-625 311,-709 H373 Z"/><path transform="translate(423.87,459.60) scale(0.02090,0.02226)" d="M373,0 H285 V-505 H102 V-568 C218,-572 290,-625 311,-709 H373 Z"/><text transform="translate(435.50,459.60) scale(1.0450,1.1300)" text-anchor="start">.5</text><text transform="translate(554.40,459.60) scale(1.0450,1.1300)" text-anchor="middle">2</text><text transform="translate(670.40,459.60) scale(1.0450,1.1300)" text-anchor="middle">2.5</text><text transform="translate(75.60,438.10) scale(1.0450,1.1300)" text-anchor="end">0</text><path transform="translate(63.98,370.75) scale(0.02090,0.02226)" d="M373,0 H285 V-505 H102 V-568 C218,-572 290,-625 311,-709 H373 Z"/><text transform="translate(75.60,303.40) scale(1.0450,1.1300)" text-anchor="end">2</text><text transform="translate(75.60,236.05) scale(1.0450,1.1300)" text-anchor="end">3</text><text transform="translate(75.60,168.70) scale(1.0450,1.1300)" text-anchor="end">4</text><text transform="translate(75.60,101.35) scale(1.0450,1.1300)" text-anchor="end">5</text><text transform="translate(75.60,34.00) scale(1.0450,1.1300)" text-anchor="end">6</text><text transform="translate(576.10,60.40) scale(1.0150,1.1130)" text-anchor="end">RL</text><text transform="translate(576.10,87.30) scale(1.0150,1.1130)" text-anchor="end">DB</text><text transform="translate(576.10,114.20) scale(1.0150,1.1130)" text-anchor="end">DSE</text></g>
<rect x="588" y="46.7" width="56" height="13.9" fill="#f9c8ce"/>
<rect x="588" y="73.4" width="56" height="13.9" fill="#bdfbc0"/>
<path d="M588,106.7 H644" stroke="#000" stroke-width="2.6"/>
<g fill="#000" transform="translate(330.6,495.8)"><text transform="translate(-0.44,0.00) scale(0.2560,0.2767)" font-family="Liberation Serif, serif" font-size="100" font-style="italic">k</text><text transform="translate(13.02,-9.30) scale(0.1996,0.1933)" font-family="Liberation Serif, serif" font-size="100">2</text><path d="M38.90,-19.30 H35.70 V6.50 H38.90" fill="none" stroke="#000" stroke-width="1.15"/><text transform="translate(39.63,0.11) scale(0.2600,0.2962)" font-family="Liberation Serif, serif" font-size="100">G</text><text transform="translate(59.30,0.16) scale(0.3080,0.2433)" font-family="Liberation Serif, serif" font-size="100">e</text><text transform="translate(72.40,-0.04) scale(0.2701,0.2896)" font-family="Liberation Serif, serif" font-size="100">V</text><text transform="translate(91.83,-9.30) scale(0.1971,0.1933)" font-family="Liberation Serif, serif" font-size="100">2</text><path d="M102.40,-19.30 H105.60 V6.50 H102.40" fill="none" stroke="#000" stroke-width="1.15"/></g>
<g fill="#000" transform="translate(39.5,310.4) rotate(-90)"><text transform="translate(-0.74,0.80) scale(0.2583,0.2767)" font-family="Liberation Serif, serif" font-size="100" font-style="italic">k</text><text transform="translate(11.91,-9.30) scale(0.2021,0.1933)" font-family="Liberation Serif, serif" font-size="100">2</text><path transform="translate(0,0.8)" d="M24.3,-17.2 Q24.5,-18.8 26.6,-18.8 H39.4 M22.4,-1.2 H34.8 Q36.9,-1.2 37.2,-3.0" fill="none" stroke="#000" stroke-width="1.1" stroke-linecap="round"/><path transform="translate(0,0.8)" d="M33.6,-18.6 C32.6,-13 30.2,-7 28.7,-1.4" fill="none" stroke="#000" stroke-width="2.0"/><path d="M47.70,-20.40 Q36.10,-6.60 47.70,7.20 Q39.10,-6.60 47.70,-20.40Z" fill="#000" stroke="#000" stroke-width="0.55" stroke-linejoin="round"/><text transform="translate(50.41,0.80) scale(0.2583,0.2767)" font-family="Liberation Serif, serif" font-size="100" font-style="italic">k</text><text transform="translate(63.61,-9.30) scale(0.2021,0.1933)" font-family="Liberation Serif, serif" font-size="100">2</text><path d="M75.60,-20.40 Q87.40,-6.60 75.60,7.20 Q84.40,-6.60 75.60,-20.40Z" fill="#000" stroke="#000" stroke-width="0.55" stroke-linejoin="round"/><path d="M99.80,-19.30 H96.60 V6.50 H99.80" fill="none" stroke="#000" stroke-width="1.15"/><text transform="translate(100.53,0.91) scale(0.2600,0.2962)" font-family="Liberation Serif, serif" font-size="100">G</text><text transform="translate(120.20,0.96) scale(0.3080,0.2433)" font-family="Liberation Serif, serif" font-size="100">e</text><text transform="translate(133.30,0.76) scale(0.2701,0.2896)" font-family="Liberation Serif, serif" font-size="100">V</text><text transform="translate(152.73,-9.30) scale(0.1971,0.1933)" font-family="Liberation Serif, serif" font-size="100">2</text><path d="M163.30,-19.30 H166.50 V6.50 H163.30" fill="none" stroke="#000" stroke-width="1.15"/></g>
</svg></body></html>
